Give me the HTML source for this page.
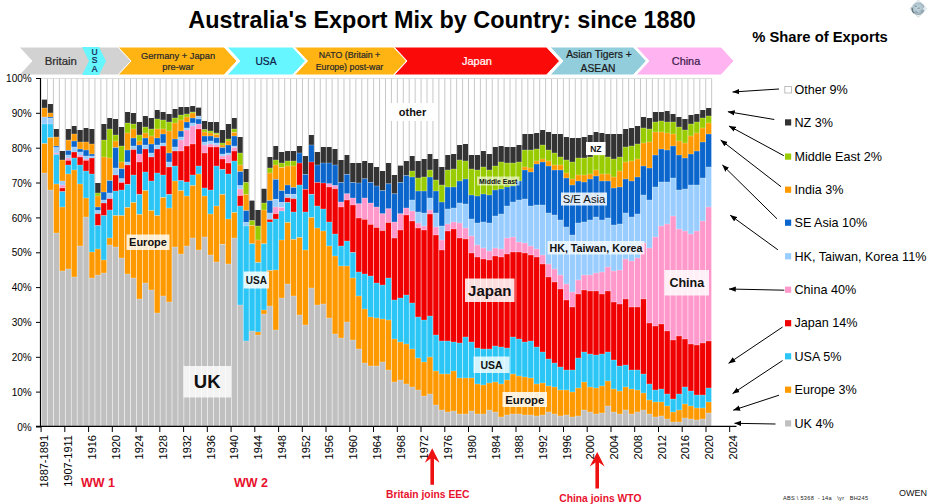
<!DOCTYPE html><html><head><meta charset="utf-8"><title>Australia Export Mix</title>
<style>html,body{margin:0;padding:0;background:#fff;}body{width:930px;height:504px;overflow:hidden;position:relative;font-family:"Liberation Sans",sans-serif;}svg{position:absolute;left:0;top:0;}text{font-family:"Liberation Sans",sans-serif;}</style></head><body>
<svg width="930" height="504" viewBox="0 0 930 504">
<rect x="0" y="0" width="930" height="504" fill="#ffffff"/>
<text x="442" y="28" text-anchor="middle" font-size="23.4" font-weight="bold" fill="#000">Australia's Export Mix by Country: since 1880</text>
<text x="820" y="41.5" text-anchor="middle" font-size="14.8" font-weight="bold" fill="#000">% Share of Exports</text>
<polygon points="19.0,47.0 118.0,47.0 131.0,61.0 118.0,75.0 19.0,75.0 32.0,61.0" fill="#d2d2d2" stroke="#ffffff" stroke-width="1"/>
<polygon points="82.0,47.0 99.0,47.0 106.0,61.0 99.0,75.0 82.0,75.0 89.0,61.0" fill="#66f6ff" stroke="none" stroke-width="1"/>
<polygon points="118.0,47.0 224.0,47.0 237.0,61.0 224.0,75.0 118.0,75.0 131.0,61.0" fill="#ffb414" stroke="#ffffff" stroke-width="1"/>
<polygon points="227.0,47.0 292.5,47.0 305.5,61.0 292.5,75.0 227.0,75.0 240.0,61.0" fill="#66f6ff" stroke="#ffffff" stroke-width="1"/>
<polygon points="294.5,47.0 393.5,47.0 406.5,61.0 393.5,75.0 294.5,75.0 307.5,61.0" fill="#ffb414" stroke="#ffffff" stroke-width="1"/>
<polygon points="394.0,47.0 546.5,47.0 559.5,61.0 546.5,75.0 394.0,75.0 407.0,61.0" fill="#fb0a0a" stroke="#ffffff" stroke-width="1"/>
<polygon points="550.0,47.0 633.3,47.0 646.3,61.0 633.3,75.0 550.0,75.0 563.0,61.0" fill="#92cddc" stroke="#ffffff" stroke-width="1"/>
<polygon points="636.0,47.0 721.0,47.0 734.0,61.0 721.0,75.0 636.0,75.0 649.0,61.0" fill="#ffb3f0" stroke="#ffffff" stroke-width="1"/>
<text x="60.8" y="65.3" text-anchor="middle" font-size="11.4" fill="#2a2a2a" stroke="#2a2a2a" stroke-width="0.22" font-weight="normal">Britain</text>
<text x="94.6" y="55.0" text-anchor="middle" font-size="8.5" fill="#10204a" stroke="#10204a" stroke-width="0.22" font-weight="normal">U</text>
<text x="94.6" y="63.3" text-anchor="middle" font-size="8.5" fill="#10204a" stroke="#10204a" stroke-width="0.22" font-weight="normal">S</text>
<text x="94.6" y="71.6" text-anchor="middle" font-size="8.5" fill="#10204a" stroke="#10204a" stroke-width="0.22" font-weight="normal">A</text>
<text x="178.0" y="59.2" text-anchor="middle" font-size="9.3" fill="#2a2a2a" stroke="#2a2a2a" stroke-width="0.22" font-weight="normal">Germany + Japan</text>
<text x="178.0" y="70.3" text-anchor="middle" font-size="9.3" fill="#2a2a2a" stroke="#2a2a2a" stroke-width="0.22" font-weight="normal">pre-war</text>
<text x="266.0" y="65.3" text-anchor="middle" font-size="10.2" fill="#10204a" stroke="#10204a" stroke-width="0.22" font-weight="normal">USA</text>
<text x="349.5" y="58.3" text-anchor="middle" font-size="8.8" fill="#2a2a2a" stroke="#2a2a2a" stroke-width="0.22" font-weight="normal">NATO (Britain +</text>
<text x="349.5" y="69.8" text-anchor="middle" font-size="8.8" fill="#2a2a2a" stroke="#2a2a2a" stroke-width="0.22" font-weight="normal">Europe) post-war</text>
<text x="477.0" y="65.3" text-anchor="middle" font-size="11" fill="#ffffff" stroke="#ffffff" stroke-width="0.22" font-weight="normal">Japan</text>
<text x="599.0" y="57.8" text-anchor="middle" font-size="10.3" fill="#1a1a1a" stroke="#1a1a1a" stroke-width="0.22" font-weight="normal">Asian Tigers +</text>
<text x="598.0" y="72.0" text-anchor="middle" font-size="10.3" fill="#1a1a1a" stroke="#1a1a1a" stroke-width="0.22" font-weight="normal">ASEAN</text>
<text x="686.0" y="65.3" text-anchor="middle" font-size="10.9" fill="#3a1a4a" stroke="#3a1a4a" stroke-width="0.22" font-weight="normal">China</text>
<rect x="41.85" y="99.60" width="5.35" height="8.40" fill="#333333"/>
<rect x="41.85" y="108.00" width="5.35" height="9.00" fill="#ff9900"/>
<rect x="41.85" y="117.00" width="5.35" height="7.00" fill="#99ccff"/>
<rect x="41.85" y="124.00" width="5.35" height="19.60" fill="#2cc6f6"/>
<rect x="41.85" y="143.60" width="5.35" height="29.40" fill="#ff9900"/>
<rect x="41.85" y="173.00" width="5.35" height="254.00" fill="#c0c0c0"/>
<rect x="47.78" y="104.00" width="5.35" height="9.00" fill="#333333"/>
<rect x="47.78" y="113.00" width="5.35" height="4.00" fill="#ff9900"/>
<rect x="47.78" y="117.00" width="5.35" height="1.40" fill="#0a66cc"/>
<rect x="47.78" y="118.40" width="5.35" height="5.60" fill="#99ccff"/>
<rect x="47.78" y="124.00" width="5.35" height="13.60" fill="#2cc6f6"/>
<rect x="47.78" y="137.60" width="5.35" height="52.40" fill="#ff9900"/>
<rect x="47.78" y="190.00" width="5.35" height="237.00" fill="#c0c0c0"/>
<rect x="53.71" y="129.00" width="5.35" height="8.00" fill="#333333"/>
<rect x="53.71" y="137.00" width="5.35" height="9.00" fill="#ff9900"/>
<rect x="53.71" y="146.00" width="5.35" height="1.60" fill="#0a66cc"/>
<rect x="53.71" y="147.60" width="5.35" height="5.40" fill="#99ccff"/>
<rect x="53.71" y="153.00" width="5.35" height="1.40" fill="#ff99cc"/>
<rect x="53.71" y="154.40" width="5.35" height="29.60" fill="#2cc6f6"/>
<rect x="53.71" y="184.00" width="5.35" height="49.00" fill="#ff9900"/>
<rect x="53.71" y="233.00" width="5.35" height="194.00" fill="#c0c0c0"/>
<rect x="59.64" y="151.00" width="5.35" height="9.00" fill="#333333"/>
<rect x="59.64" y="160.00" width="5.35" height="21.00" fill="#ff9900"/>
<rect x="59.64" y="181.00" width="5.35" height="4.00" fill="#99ccff"/>
<rect x="59.64" y="185.00" width="5.35" height="3.00" fill="#ff99cc"/>
<rect x="59.64" y="188.00" width="5.35" height="3.60" fill="#f00000"/>
<rect x="59.64" y="191.60" width="5.35" height="15.40" fill="#2cc6f6"/>
<rect x="59.64" y="207.00" width="5.35" height="64.00" fill="#ff9900"/>
<rect x="59.64" y="271.00" width="5.35" height="156.00" fill="#c0c0c0"/>
<rect x="65.57" y="129.00" width="5.35" height="11.00" fill="#333333"/>
<rect x="65.57" y="140.00" width="5.35" height="10.40" fill="#ff9900"/>
<rect x="65.57" y="150.40" width="5.35" height="4.60" fill="#0a66cc"/>
<rect x="65.57" y="155.00" width="5.35" height="3.00" fill="#99ccff"/>
<rect x="65.57" y="158.00" width="5.35" height="2.40" fill="#ff99cc"/>
<rect x="65.57" y="160.40" width="5.35" height="4.60" fill="#f00000"/>
<rect x="65.57" y="165.00" width="5.35" height="9.00" fill="#2cc6f6"/>
<rect x="65.57" y="174.00" width="5.35" height="95.00" fill="#ff9900"/>
<rect x="65.57" y="269.00" width="5.35" height="158.00" fill="#c0c0c0"/>
<rect x="71.50" y="126.00" width="5.35" height="8.00" fill="#333333"/>
<rect x="71.50" y="134.00" width="5.35" height="7.00" fill="#ff9900"/>
<rect x="71.50" y="141.00" width="5.35" height="6.00" fill="#0a66cc"/>
<rect x="71.50" y="147.00" width="5.35" height="5.00" fill="#99ccff"/>
<rect x="71.50" y="152.00" width="5.35" height="6.00" fill="#f00000"/>
<rect x="71.50" y="158.00" width="5.35" height="12.00" fill="#2cc6f6"/>
<rect x="71.50" y="170.00" width="5.35" height="107.00" fill="#ff9900"/>
<rect x="71.50" y="277.00" width="5.35" height="150.00" fill="#c0c0c0"/>
<rect x="77.43" y="130.00" width="5.35" height="12.00" fill="#333333"/>
<rect x="77.43" y="142.00" width="5.35" height="7.00" fill="#ff9900"/>
<rect x="77.43" y="149.00" width="5.35" height="3.00" fill="#0a66cc"/>
<rect x="77.43" y="152.00" width="5.35" height="3.00" fill="#99ccff"/>
<rect x="77.43" y="155.00" width="5.35" height="2.00" fill="#ff99cc"/>
<rect x="77.43" y="157.00" width="5.35" height="8.00" fill="#f00000"/>
<rect x="77.43" y="165.00" width="5.35" height="19.00" fill="#2cc6f6"/>
<rect x="77.43" y="184.00" width="5.35" height="62.00" fill="#ff9900"/>
<rect x="77.43" y="246.00" width="5.35" height="181.00" fill="#c0c0c0"/>
<rect x="83.36" y="128.00" width="5.35" height="14.00" fill="#333333"/>
<rect x="83.36" y="142.00" width="5.35" height="8.00" fill="#ff9900"/>
<rect x="83.36" y="150.00" width="5.35" height="6.00" fill="#0a66cc"/>
<rect x="83.36" y="156.00" width="5.35" height="3.00" fill="#99ccff"/>
<rect x="83.36" y="159.00" width="5.35" height="1.40" fill="#ff99cc"/>
<rect x="83.36" y="160.40" width="5.35" height="10.60" fill="#f00000"/>
<rect x="83.36" y="171.00" width="5.35" height="27.00" fill="#2cc6f6"/>
<rect x="83.36" y="198.00" width="5.35" height="19.00" fill="#ff9900"/>
<rect x="83.36" y="217.00" width="5.35" height="210.00" fill="#c0c0c0"/>
<rect x="89.29" y="129.00" width="5.35" height="15.00" fill="#333333"/>
<rect x="89.29" y="144.00" width="5.35" height="10.00" fill="#ff9900"/>
<rect x="89.29" y="154.00" width="5.35" height="2.00" fill="#0a66cc"/>
<rect x="89.29" y="156.00" width="5.35" height="2.00" fill="#99ccff"/>
<rect x="89.29" y="158.00" width="5.35" height="16.00" fill="#f00000"/>
<rect x="89.29" y="174.00" width="5.35" height="78.00" fill="#2cc6f6"/>
<rect x="89.29" y="252.00" width="5.35" height="26.00" fill="#ff9900"/>
<rect x="89.29" y="278.00" width="5.35" height="149.00" fill="#c0c0c0"/>
<rect x="95.22" y="183.00" width="5.35" height="10.00" fill="#333333"/>
<rect x="95.22" y="193.00" width="5.35" height="3.00" fill="#99cc00"/>
<rect x="95.22" y="196.00" width="5.35" height="11.00" fill="#ff9900"/>
<rect x="95.22" y="207.00" width="5.35" height="3.60" fill="#0a66cc"/>
<rect x="95.22" y="210.60" width="5.35" height="3.10" fill="#99ccff"/>
<rect x="95.22" y="213.70" width="5.35" height="11.90" fill="#f00000"/>
<rect x="95.22" y="225.60" width="5.35" height="23.40" fill="#2cc6f6"/>
<rect x="95.22" y="249.00" width="5.35" height="26.00" fill="#ff9900"/>
<rect x="95.22" y="275.00" width="5.35" height="152.00" fill="#c0c0c0"/>
<rect x="101.15" y="124.00" width="5.35" height="16.00" fill="#333333"/>
<rect x="101.15" y="140.00" width="5.35" height="17.00" fill="#99cc00"/>
<rect x="101.15" y="157.00" width="5.35" height="35.00" fill="#ff9900"/>
<rect x="101.15" y="192.00" width="5.35" height="8.00" fill="#0a66cc"/>
<rect x="101.15" y="200.00" width="5.35" height="3.00" fill="#99ccff"/>
<rect x="101.15" y="203.00" width="5.35" height="12.60" fill="#f00000"/>
<rect x="101.15" y="215.60" width="5.35" height="44.40" fill="#2cc6f6"/>
<rect x="101.15" y="260.00" width="5.35" height="13.00" fill="#ff9900"/>
<rect x="101.15" y="273.00" width="5.35" height="154.00" fill="#c0c0c0"/>
<rect x="107.08" y="118.00" width="5.35" height="11.00" fill="#333333"/>
<rect x="107.08" y="129.00" width="5.35" height="29.00" fill="#99cc00"/>
<rect x="107.08" y="158.00" width="5.35" height="22.60" fill="#ff9900"/>
<rect x="107.08" y="180.60" width="5.35" height="12.40" fill="#0a66cc"/>
<rect x="107.08" y="193.00" width="5.35" height="5.70" fill="#99ccff"/>
<rect x="107.08" y="198.70" width="5.35" height="11.30" fill="#f00000"/>
<rect x="107.08" y="210.00" width="5.35" height="28.00" fill="#2cc6f6"/>
<rect x="107.08" y="238.00" width="5.35" height="7.00" fill="#ff9900"/>
<rect x="107.08" y="245.00" width="5.35" height="182.00" fill="#c0c0c0"/>
<rect x="113.01" y="119.00" width="5.35" height="16.00" fill="#333333"/>
<rect x="113.01" y="135.00" width="5.35" height="6.00" fill="#99cc00"/>
<rect x="113.01" y="141.00" width="5.35" height="6.60" fill="#ff9900"/>
<rect x="113.01" y="147.60" width="5.35" height="20.40" fill="#0a66cc"/>
<rect x="113.01" y="168.00" width="5.35" height="7.00" fill="#99ccff"/>
<rect x="113.01" y="175.00" width="5.35" height="16.00" fill="#f00000"/>
<rect x="113.01" y="191.00" width="5.35" height="24.60" fill="#2cc6f6"/>
<rect x="113.01" y="215.60" width="5.35" height="31.40" fill="#ff9900"/>
<rect x="113.01" y="247.00" width="5.35" height="180.00" fill="#c0c0c0"/>
<rect x="118.94" y="127.00" width="5.35" height="19.00" fill="#333333"/>
<rect x="118.94" y="146.00" width="5.35" height="16.00" fill="#99cc00"/>
<rect x="118.94" y="162.00" width="5.35" height="6.70" fill="#ff9900"/>
<rect x="118.94" y="168.70" width="5.35" height="10.00" fill="#0a66cc"/>
<rect x="118.94" y="178.70" width="5.35" height="3.80" fill="#99ccff"/>
<rect x="118.94" y="182.50" width="5.35" height="7.50" fill="#f00000"/>
<rect x="118.94" y="190.00" width="5.35" height="25.60" fill="#2cc6f6"/>
<rect x="118.94" y="215.60" width="5.35" height="42.40" fill="#ff9900"/>
<rect x="118.94" y="258.00" width="5.35" height="169.00" fill="#c0c0c0"/>
<rect x="124.87" y="112.00" width="5.35" height="11.00" fill="#333333"/>
<rect x="124.87" y="123.00" width="5.35" height="10.00" fill="#99cc00"/>
<rect x="124.87" y="133.00" width="5.35" height="17.00" fill="#ff9900"/>
<rect x="124.87" y="150.00" width="5.35" height="12.00" fill="#0a66cc"/>
<rect x="124.87" y="162.00" width="5.35" height="3.00" fill="#99ccff"/>
<rect x="124.87" y="165.00" width="5.35" height="19.40" fill="#f00000"/>
<rect x="124.87" y="184.40" width="5.35" height="23.10" fill="#2cc6f6"/>
<rect x="124.87" y="207.50" width="5.35" height="66.50" fill="#ff9900"/>
<rect x="124.87" y="274.00" width="5.35" height="153.00" fill="#c0c0c0"/>
<rect x="130.80" y="113.00" width="5.35" height="11.00" fill="#333333"/>
<rect x="130.80" y="124.00" width="5.35" height="5.00" fill="#99cc00"/>
<rect x="130.80" y="129.00" width="5.35" height="9.00" fill="#ff9900"/>
<rect x="130.80" y="138.00" width="5.35" height="8.00" fill="#0a66cc"/>
<rect x="130.80" y="146.00" width="5.35" height="3.60" fill="#99ccff"/>
<rect x="130.80" y="149.60" width="5.35" height="25.40" fill="#f00000"/>
<rect x="130.80" y="175.00" width="5.35" height="27.50" fill="#2cc6f6"/>
<rect x="130.80" y="202.50" width="5.35" height="75.50" fill="#ff9900"/>
<rect x="130.80" y="278.00" width="5.35" height="149.00" fill="#c0c0c0"/>
<rect x="136.73" y="122.00" width="5.35" height="13.00" fill="#333333"/>
<rect x="136.73" y="135.00" width="5.35" height="6.00" fill="#99cc00"/>
<rect x="136.73" y="141.00" width="5.35" height="4.00" fill="#ff9900"/>
<rect x="136.73" y="145.00" width="5.35" height="9.00" fill="#0a66cc"/>
<rect x="136.73" y="154.00" width="5.35" height="8.00" fill="#ff99cc"/>
<rect x="136.73" y="162.00" width="5.35" height="32.40" fill="#f00000"/>
<rect x="136.73" y="194.40" width="5.35" height="20.00" fill="#2cc6f6"/>
<rect x="136.73" y="214.40" width="5.35" height="84.60" fill="#ff9900"/>
<rect x="136.73" y="299.00" width="5.35" height="128.00" fill="#c0c0c0"/>
<rect x="142.66" y="116.00" width="5.35" height="11.00" fill="#333333"/>
<rect x="142.66" y="127.00" width="5.35" height="6.00" fill="#99cc00"/>
<rect x="142.66" y="133.00" width="5.35" height="5.00" fill="#ff9900"/>
<rect x="142.66" y="138.00" width="5.35" height="7.00" fill="#0a66cc"/>
<rect x="142.66" y="145.00" width="5.35" height="4.00" fill="#99ccff"/>
<rect x="142.66" y="149.00" width="5.35" height="23.00" fill="#f00000"/>
<rect x="142.66" y="172.00" width="5.35" height="18.60" fill="#2cc6f6"/>
<rect x="142.66" y="190.60" width="5.35" height="92.40" fill="#ff9900"/>
<rect x="142.66" y="283.00" width="5.35" height="144.00" fill="#c0c0c0"/>
<rect x="148.59" y="118.00" width="5.35" height="11.00" fill="#333333"/>
<rect x="148.59" y="129.00" width="5.35" height="7.00" fill="#99cc00"/>
<rect x="148.59" y="136.00" width="5.35" height="8.00" fill="#ff9900"/>
<rect x="148.59" y="144.00" width="5.35" height="9.00" fill="#0a66cc"/>
<rect x="148.59" y="153.00" width="5.35" height="4.00" fill="#99ccff"/>
<rect x="148.59" y="157.00" width="5.35" height="24.00" fill="#f00000"/>
<rect x="148.59" y="181.00" width="5.35" height="29.60" fill="#2cc6f6"/>
<rect x="148.59" y="210.60" width="5.35" height="79.40" fill="#ff9900"/>
<rect x="148.59" y="290.00" width="5.35" height="137.00" fill="#c0c0c0"/>
<rect x="154.52" y="110.00" width="5.35" height="9.00" fill="#333333"/>
<rect x="154.52" y="119.00" width="5.35" height="10.00" fill="#99cc00"/>
<rect x="154.52" y="129.00" width="5.35" height="9.00" fill="#ff9900"/>
<rect x="154.52" y="138.00" width="5.35" height="7.00" fill="#0a66cc"/>
<rect x="154.52" y="145.00" width="5.35" height="4.00" fill="#99ccff"/>
<rect x="154.52" y="149.00" width="5.35" height="24.00" fill="#f00000"/>
<rect x="154.52" y="173.00" width="5.35" height="42.60" fill="#2cc6f6"/>
<rect x="154.52" y="215.60" width="5.35" height="97.40" fill="#ff9900"/>
<rect x="154.52" y="313.00" width="5.35" height="114.00" fill="#c0c0c0"/>
<rect x="160.45" y="112.00" width="5.35" height="8.00" fill="#333333"/>
<rect x="160.45" y="120.00" width="5.35" height="9.00" fill="#99cc00"/>
<rect x="160.45" y="129.00" width="5.35" height="5.00" fill="#ff9900"/>
<rect x="160.45" y="134.00" width="5.35" height="9.00" fill="#0a66cc"/>
<rect x="160.45" y="143.00" width="5.35" height="3.00" fill="#99ccff"/>
<rect x="160.45" y="146.00" width="5.35" height="29.00" fill="#f00000"/>
<rect x="160.45" y="175.00" width="5.35" height="22.50" fill="#2cc6f6"/>
<rect x="160.45" y="197.50" width="5.35" height="98.50" fill="#ff9900"/>
<rect x="160.45" y="296.00" width="5.35" height="131.00" fill="#c0c0c0"/>
<rect x="166.38" y="114.00" width="5.35" height="8.00" fill="#333333"/>
<rect x="166.38" y="122.00" width="5.35" height="9.00" fill="#99cc00"/>
<rect x="166.38" y="131.00" width="5.35" height="22.00" fill="#ff9900"/>
<rect x="166.38" y="153.00" width="5.35" height="9.00" fill="#0a66cc"/>
<rect x="166.38" y="162.00" width="5.35" height="5.00" fill="#99ccff"/>
<rect x="166.38" y="167.00" width="5.35" height="27.40" fill="#f00000"/>
<rect x="166.38" y="194.40" width="5.35" height="13.60" fill="#2cc6f6"/>
<rect x="166.38" y="208.00" width="5.35" height="94.00" fill="#ff9900"/>
<rect x="166.38" y="302.00" width="5.35" height="125.00" fill="#c0c0c0"/>
<rect x="172.31" y="109.00" width="5.35" height="9.00" fill="#333333"/>
<rect x="172.31" y="118.00" width="5.35" height="5.00" fill="#99cc00"/>
<rect x="172.31" y="123.00" width="5.35" height="16.00" fill="#ff9900"/>
<rect x="172.31" y="139.00" width="5.35" height="8.00" fill="#0a66cc"/>
<rect x="172.31" y="147.00" width="5.35" height="4.00" fill="#99ccff"/>
<rect x="172.31" y="151.00" width="5.35" height="15.00" fill="#f00000"/>
<rect x="172.31" y="166.00" width="5.35" height="15.00" fill="#2cc6f6"/>
<rect x="172.31" y="181.00" width="5.35" height="66.00" fill="#ff9900"/>
<rect x="172.31" y="247.00" width="5.35" height="180.00" fill="#c0c0c0"/>
<rect x="178.24" y="107.00" width="5.35" height="8.00" fill="#333333"/>
<rect x="178.24" y="115.00" width="5.35" height="5.00" fill="#99cc00"/>
<rect x="178.24" y="120.00" width="5.35" height="11.00" fill="#ff9900"/>
<rect x="178.24" y="131.00" width="5.35" height="6.00" fill="#0a66cc"/>
<rect x="178.24" y="137.00" width="5.35" height="3.00" fill="#99ccff"/>
<rect x="178.24" y="140.00" width="5.35" height="11.00" fill="#ff99cc"/>
<rect x="178.24" y="151.00" width="5.35" height="29.60" fill="#f00000"/>
<rect x="178.24" y="180.60" width="5.35" height="10.00" fill="#2cc6f6"/>
<rect x="178.24" y="190.60" width="5.35" height="63.40" fill="#ff9900"/>
<rect x="178.24" y="254.00" width="5.35" height="173.00" fill="#c0c0c0"/>
<rect x="184.17" y="107.00" width="5.35" height="7.00" fill="#333333"/>
<rect x="184.17" y="114.00" width="5.35" height="3.00" fill="#99cc00"/>
<rect x="184.17" y="117.00" width="5.35" height="5.00" fill="#ff9900"/>
<rect x="184.17" y="122.00" width="5.35" height="6.00" fill="#0a66cc"/>
<rect x="184.17" y="128.00" width="5.35" height="2.00" fill="#99ccff"/>
<rect x="184.17" y="130.00" width="5.35" height="16.00" fill="#ff99cc"/>
<rect x="184.17" y="146.00" width="5.35" height="36.00" fill="#f00000"/>
<rect x="184.17" y="182.00" width="5.35" height="14.00" fill="#2cc6f6"/>
<rect x="184.17" y="196.00" width="5.35" height="50.00" fill="#ff9900"/>
<rect x="184.17" y="246.00" width="5.35" height="181.00" fill="#c0c0c0"/>
<rect x="190.10" y="106.00" width="5.35" height="6.00" fill="#333333"/>
<rect x="190.10" y="112.00" width="5.35" height="1.00" fill="#99cc00"/>
<rect x="190.10" y="113.00" width="5.35" height="5.00" fill="#ff9900"/>
<rect x="190.10" y="118.00" width="5.35" height="5.00" fill="#0a66cc"/>
<rect x="190.10" y="123.00" width="5.35" height="3.00" fill="#99ccff"/>
<rect x="190.10" y="126.00" width="5.35" height="18.00" fill="#ff99cc"/>
<rect x="190.10" y="144.00" width="5.35" height="31.00" fill="#f00000"/>
<rect x="190.10" y="175.00" width="5.35" height="10.60" fill="#2cc6f6"/>
<rect x="190.10" y="185.60" width="5.35" height="52.40" fill="#ff9900"/>
<rect x="190.10" y="238.00" width="5.35" height="189.00" fill="#c0c0c0"/>
<rect x="196.03" y="107.60" width="5.35" height="8.40" fill="#333333"/>
<rect x="196.03" y="116.00" width="5.35" height="3.00" fill="#99ccff"/>
<rect x="196.03" y="119.00" width="5.35" height="5.00" fill="#0a66cc"/>
<rect x="196.03" y="124.00" width="5.35" height="5.00" fill="#ff99cc"/>
<rect x="196.03" y="129.00" width="5.35" height="37.00" fill="#f00000"/>
<rect x="196.03" y="166.00" width="5.35" height="8.00" fill="#2cc6f6"/>
<rect x="196.03" y="174.00" width="5.35" height="76.00" fill="#ff9900"/>
<rect x="196.03" y="250.00" width="5.35" height="177.00" fill="#c0c0c0"/>
<rect x="201.96" y="121.00" width="5.35" height="8.60" fill="#333333"/>
<rect x="201.96" y="129.60" width="5.35" height="2.40" fill="#99cc00"/>
<rect x="201.96" y="132.00" width="5.35" height="4.00" fill="#ff9900"/>
<rect x="201.96" y="136.00" width="5.35" height="6.00" fill="#0a66cc"/>
<rect x="201.96" y="142.00" width="5.35" height="3.00" fill="#99ccff"/>
<rect x="201.96" y="145.00" width="5.35" height="8.00" fill="#ff99cc"/>
<rect x="201.96" y="153.00" width="5.35" height="35.00" fill="#f00000"/>
<rect x="201.96" y="188.00" width="5.35" height="8.00" fill="#2cc6f6"/>
<rect x="201.96" y="196.00" width="5.35" height="41.00" fill="#ff9900"/>
<rect x="201.96" y="237.00" width="5.35" height="190.00" fill="#c0c0c0"/>
<rect x="207.89" y="122.00" width="5.35" height="9.00" fill="#333333"/>
<rect x="207.89" y="131.00" width="5.35" height="2.00" fill="#99cc00"/>
<rect x="207.89" y="133.00" width="5.35" height="3.00" fill="#ff9900"/>
<rect x="207.89" y="136.00" width="5.35" height="5.00" fill="#0a66cc"/>
<rect x="207.89" y="141.00" width="5.35" height="3.00" fill="#99ccff"/>
<rect x="207.89" y="144.00" width="5.35" height="3.00" fill="#ff99cc"/>
<rect x="207.89" y="147.00" width="5.35" height="43.00" fill="#f00000"/>
<rect x="207.89" y="190.00" width="5.35" height="24.00" fill="#2cc6f6"/>
<rect x="207.89" y="214.00" width="5.35" height="41.00" fill="#ff9900"/>
<rect x="207.89" y="255.00" width="5.35" height="172.00" fill="#c0c0c0"/>
<rect x="213.82" y="122.00" width="5.35" height="11.00" fill="#333333"/>
<rect x="213.82" y="133.00" width="5.35" height="1.40" fill="#99cc00"/>
<rect x="213.82" y="134.40" width="5.35" height="3.20" fill="#ff9900"/>
<rect x="213.82" y="137.60" width="5.35" height="5.40" fill="#0a66cc"/>
<rect x="213.82" y="143.00" width="5.35" height="2.00" fill="#99ccff"/>
<rect x="213.82" y="145.00" width="5.35" height="2.00" fill="#ff99cc"/>
<rect x="213.82" y="147.00" width="5.35" height="19.00" fill="#f00000"/>
<rect x="213.82" y="166.00" width="5.35" height="40.00" fill="#2cc6f6"/>
<rect x="213.82" y="206.00" width="5.35" height="56.00" fill="#ff9900"/>
<rect x="213.82" y="262.00" width="5.35" height="165.00" fill="#c0c0c0"/>
<rect x="219.75" y="130.00" width="5.35" height="13.00" fill="#333333"/>
<rect x="219.75" y="143.00" width="5.35" height="2.00" fill="#99cc00"/>
<rect x="219.75" y="145.00" width="5.35" height="2.60" fill="#ff9900"/>
<rect x="219.75" y="147.60" width="5.35" height="6.40" fill="#0a66cc"/>
<rect x="219.75" y="154.00" width="5.35" height="2.00" fill="#99ccff"/>
<rect x="219.75" y="156.00" width="5.35" height="3.00" fill="#ff99cc"/>
<rect x="219.75" y="159.00" width="5.35" height="10.40" fill="#f00000"/>
<rect x="219.75" y="169.40" width="5.35" height="25.00" fill="#2cc6f6"/>
<rect x="219.75" y="194.40" width="5.35" height="50.00" fill="#ff9900"/>
<rect x="219.75" y="244.40" width="5.35" height="182.60" fill="#c0c0c0"/>
<rect x="225.68" y="124.00" width="5.35" height="15.00" fill="#333333"/>
<rect x="225.68" y="139.00" width="5.35" height="2.00" fill="#99cc00"/>
<rect x="225.68" y="141.00" width="5.35" height="4.00" fill="#ff9900"/>
<rect x="225.68" y="145.00" width="5.35" height="8.00" fill="#0a66cc"/>
<rect x="225.68" y="153.00" width="5.35" height="2.00" fill="#99ccff"/>
<rect x="225.68" y="155.00" width="5.35" height="8.00" fill="#ff99cc"/>
<rect x="225.68" y="163.00" width="5.35" height="11.00" fill="#f00000"/>
<rect x="225.68" y="174.00" width="5.35" height="45.00" fill="#2cc6f6"/>
<rect x="225.68" y="219.00" width="5.35" height="45.00" fill="#ff9900"/>
<rect x="225.68" y="264.00" width="5.35" height="163.00" fill="#c0c0c0"/>
<rect x="231.61" y="118.00" width="5.35" height="11.00" fill="#333333"/>
<rect x="231.61" y="129.00" width="5.35" height="3.40" fill="#99cc00"/>
<rect x="231.61" y="132.40" width="5.35" height="3.60" fill="#ff9900"/>
<rect x="231.61" y="136.00" width="5.35" height="10.00" fill="#0a66cc"/>
<rect x="231.61" y="146.00" width="5.35" height="1.60" fill="#99ccff"/>
<rect x="231.61" y="147.60" width="5.35" height="3.40" fill="#ff99cc"/>
<rect x="231.61" y="151.00" width="5.35" height="10.00" fill="#f00000"/>
<rect x="231.61" y="161.00" width="5.35" height="51.50" fill="#2cc6f6"/>
<rect x="231.61" y="212.50" width="5.35" height="25.50" fill="#ff9900"/>
<rect x="231.61" y="238.00" width="5.35" height="189.00" fill="#c0c0c0"/>
<rect x="237.54" y="137.00" width="5.35" height="16.00" fill="#333333"/>
<rect x="237.54" y="153.00" width="5.35" height="12.00" fill="#99cc00"/>
<rect x="237.54" y="165.00" width="5.35" height="6.60" fill="#ff9900"/>
<rect x="237.54" y="171.60" width="5.35" height="14.00" fill="#0a66cc"/>
<rect x="237.54" y="185.60" width="5.35" height="3.40" fill="#99ccff"/>
<rect x="237.54" y="189.00" width="5.35" height="6.60" fill="#ff99cc"/>
<rect x="237.54" y="195.60" width="5.35" height="10.40" fill="#f00000"/>
<rect x="237.54" y="206.00" width="5.35" height="99.00" fill="#2cc6f6"/>
<rect x="237.54" y="305.00" width="5.35" height="122.00" fill="#c0c0c0"/>
<rect x="243.47" y="169.00" width="5.35" height="13.50" fill="#333333"/>
<rect x="243.47" y="182.50" width="5.35" height="11.90" fill="#99cc00"/>
<rect x="243.47" y="194.40" width="5.35" height="16.20" fill="#ff9900"/>
<rect x="243.47" y="210.60" width="5.35" height="11.90" fill="#0a66cc"/>
<rect x="243.47" y="222.50" width="5.35" height="3.50" fill="#99ccff"/>
<rect x="243.47" y="226.00" width="5.35" height="115.00" fill="#2cc6f6"/>
<rect x="243.47" y="341.00" width="5.35" height="86.00" fill="#c0c0c0"/>
<rect x="249.40" y="200.60" width="5.35" height="20.00" fill="#333333"/>
<rect x="249.40" y="220.60" width="5.35" height="5.00" fill="#99cc00"/>
<rect x="249.40" y="225.60" width="5.35" height="18.15" fill="#ff9900"/>
<rect x="249.40" y="243.75" width="5.35" height="87.25" fill="#2cc6f6"/>
<rect x="249.40" y="331.00" width="5.35" height="96.00" fill="#c0c0c0"/>
<rect x="255.33" y="210.00" width="5.35" height="16.00" fill="#333333"/>
<rect x="255.33" y="226.00" width="5.35" height="14.00" fill="#99cc00"/>
<rect x="255.33" y="240.00" width="5.35" height="22.50" fill="#ff9900"/>
<rect x="255.33" y="262.50" width="5.35" height="69.50" fill="#2cc6f6"/>
<rect x="255.33" y="332.00" width="5.35" height="3.00" fill="#ff9900"/>
<rect x="255.33" y="335.00" width="5.35" height="92.00" fill="#c0c0c0"/>
<rect x="261.26" y="188.75" width="5.35" height="14.25" fill="#333333"/>
<rect x="261.26" y="203.00" width="5.35" height="7.00" fill="#99cc00"/>
<rect x="261.26" y="210.00" width="5.35" height="33.75" fill="#ff9900"/>
<rect x="261.26" y="243.75" width="5.35" height="66.25" fill="#2cc6f6"/>
<rect x="261.26" y="310.00" width="5.35" height="4.00" fill="#ff9900"/>
<rect x="261.26" y="314.00" width="5.35" height="113.00" fill="#c0c0c0"/>
<rect x="267.19" y="157.00" width="5.35" height="11.00" fill="#333333"/>
<rect x="267.19" y="168.00" width="5.35" height="5.00" fill="#99cc00"/>
<rect x="267.19" y="173.00" width="5.35" height="27.60" fill="#ff9900"/>
<rect x="267.19" y="200.60" width="5.35" height="12.40" fill="#0a66cc"/>
<rect x="267.19" y="213.00" width="5.35" height="6.40" fill="#99ccff"/>
<rect x="267.19" y="219.40" width="5.35" height="2.60" fill="#f00000"/>
<rect x="267.19" y="222.00" width="5.35" height="48.50" fill="#2cc6f6"/>
<rect x="267.19" y="270.50" width="5.35" height="35.50" fill="#ff9900"/>
<rect x="267.19" y="306.00" width="5.35" height="121.00" fill="#c0c0c0"/>
<rect x="273.12" y="146.00" width="5.35" height="14.00" fill="#333333"/>
<rect x="273.12" y="160.00" width="5.35" height="5.00" fill="#99cc00"/>
<rect x="273.12" y="165.00" width="5.35" height="14.40" fill="#ff9900"/>
<rect x="273.12" y="179.40" width="5.35" height="20.00" fill="#0a66cc"/>
<rect x="273.12" y="199.40" width="5.35" height="7.60" fill="#99ccff"/>
<rect x="273.12" y="207.00" width="5.35" height="6.75" fill="#ff99cc"/>
<rect x="273.12" y="213.75" width="5.35" height="5.25" fill="#f00000"/>
<rect x="273.12" y="219.00" width="5.35" height="51.00" fill="#2cc6f6"/>
<rect x="273.12" y="270.00" width="5.35" height="60.00" fill="#ff9900"/>
<rect x="273.12" y="330.00" width="5.35" height="97.00" fill="#c0c0c0"/>
<rect x="279.05" y="152.00" width="5.35" height="11.00" fill="#333333"/>
<rect x="279.05" y="163.00" width="5.35" height="4.50" fill="#99cc00"/>
<rect x="279.05" y="167.50" width="5.35" height="23.10" fill="#ff9900"/>
<rect x="279.05" y="190.60" width="5.35" height="11.90" fill="#0a66cc"/>
<rect x="279.05" y="202.50" width="5.35" height="5.00" fill="#99ccff"/>
<rect x="279.05" y="207.50" width="5.35" height="3.50" fill="#ff99cc"/>
<rect x="279.05" y="211.00" width="5.35" height="29.00" fill="#2cc6f6"/>
<rect x="279.05" y="240.00" width="5.35" height="58.00" fill="#ff9900"/>
<rect x="279.05" y="298.00" width="5.35" height="129.00" fill="#c0c0c0"/>
<rect x="284.98" y="151.00" width="5.35" height="10.00" fill="#333333"/>
<rect x="284.98" y="161.00" width="5.35" height="5.00" fill="#99cc00"/>
<rect x="284.98" y="166.00" width="5.35" height="19.00" fill="#ff9900"/>
<rect x="284.98" y="185.00" width="5.35" height="9.40" fill="#0a66cc"/>
<rect x="284.98" y="194.40" width="5.35" height="3.35" fill="#99ccff"/>
<rect x="284.98" y="197.75" width="5.35" height="4.75" fill="#f00000"/>
<rect x="284.98" y="202.50" width="5.35" height="20.00" fill="#2cc6f6"/>
<rect x="284.98" y="222.50" width="5.35" height="61.50" fill="#ff9900"/>
<rect x="284.98" y="284.00" width="5.35" height="143.00" fill="#c0c0c0"/>
<rect x="290.91" y="151.00" width="5.35" height="10.00" fill="#333333"/>
<rect x="290.91" y="161.00" width="5.35" height="5.00" fill="#99cc00"/>
<rect x="290.91" y="166.00" width="5.35" height="21.50" fill="#ff9900"/>
<rect x="290.91" y="187.50" width="5.35" height="6.90" fill="#0a66cc"/>
<rect x="290.91" y="194.40" width="5.35" height="4.35" fill="#99ccff"/>
<rect x="290.91" y="198.75" width="5.35" height="13.25" fill="#f00000"/>
<rect x="290.91" y="212.00" width="5.35" height="27.40" fill="#2cc6f6"/>
<rect x="290.91" y="239.40" width="5.35" height="56.60" fill="#ff9900"/>
<rect x="290.91" y="296.00" width="5.35" height="131.00" fill="#c0c0c0"/>
<rect x="296.84" y="146.00" width="5.35" height="7.00" fill="#333333"/>
<rect x="296.84" y="153.00" width="5.35" height="10.00" fill="#0a66cc"/>
<rect x="296.84" y="163.00" width="5.35" height="22.00" fill="#f00000"/>
<rect x="296.84" y="185.00" width="5.35" height="52.50" fill="#2cc6f6"/>
<rect x="296.84" y="237.50" width="5.35" height="77.50" fill="#ff9900"/>
<rect x="296.84" y="315.00" width="5.35" height="112.00" fill="#c0c0c0"/>
<rect x="302.77" y="156.00" width="5.35" height="18.40" fill="#333333"/>
<rect x="302.77" y="174.40" width="5.35" height="15.00" fill="#0a66cc"/>
<rect x="302.77" y="189.40" width="5.35" height="22.60" fill="#f00000"/>
<rect x="302.77" y="212.00" width="5.35" height="38.00" fill="#2cc6f6"/>
<rect x="302.77" y="250.00" width="5.35" height="75.00" fill="#ff9900"/>
<rect x="302.77" y="325.00" width="5.35" height="102.00" fill="#c0c0c0"/>
<rect x="308.70" y="135.00" width="5.35" height="10.00" fill="#333333"/>
<rect x="308.70" y="145.00" width="5.35" height="17.00" fill="#0a66cc"/>
<rect x="308.70" y="162.00" width="5.35" height="32.40" fill="#f00000"/>
<rect x="308.70" y="194.40" width="5.35" height="23.10" fill="#2cc6f6"/>
<rect x="308.70" y="217.50" width="5.35" height="70.50" fill="#ff9900"/>
<rect x="308.70" y="288.00" width="5.35" height="139.00" fill="#c0c0c0"/>
<rect x="314.63" y="152.00" width="5.35" height="13.00" fill="#333333"/>
<rect x="314.63" y="165.00" width="5.35" height="17.50" fill="#0a66cc"/>
<rect x="314.63" y="182.50" width="5.35" height="23.50" fill="#f00000"/>
<rect x="314.63" y="206.00" width="5.35" height="22.00" fill="#2cc6f6"/>
<rect x="314.63" y="228.00" width="5.35" height="77.00" fill="#ff9900"/>
<rect x="314.63" y="305.00" width="5.35" height="122.00" fill="#c0c0c0"/>
<rect x="320.56" y="147.00" width="5.35" height="16.00" fill="#333333"/>
<rect x="320.56" y="163.00" width="5.35" height="20.00" fill="#0a66cc"/>
<rect x="320.56" y="183.00" width="5.35" height="26.00" fill="#f00000"/>
<rect x="320.56" y="209.00" width="5.35" height="22.00" fill="#2cc6f6"/>
<rect x="320.56" y="231.00" width="5.35" height="73.00" fill="#ff9900"/>
<rect x="320.56" y="304.00" width="5.35" height="123.00" fill="#c0c0c0"/>
<rect x="326.49" y="147.00" width="5.35" height="16.00" fill="#333333"/>
<rect x="326.49" y="163.00" width="5.35" height="20.75" fill="#0a66cc"/>
<rect x="326.49" y="183.75" width="5.35" height="3.25" fill="#ff99cc"/>
<rect x="326.49" y="187.00" width="5.35" height="35.00" fill="#f00000"/>
<rect x="326.49" y="222.00" width="5.35" height="24.00" fill="#2cc6f6"/>
<rect x="326.49" y="246.00" width="5.35" height="72.00" fill="#ff9900"/>
<rect x="326.49" y="318.00" width="5.35" height="109.00" fill="#c0c0c0"/>
<rect x="332.42" y="149.00" width="5.35" height="16.00" fill="#333333"/>
<rect x="332.42" y="165.00" width="5.35" height="20.60" fill="#0a66cc"/>
<rect x="332.42" y="185.60" width="5.35" height="3.15" fill="#ff99cc"/>
<rect x="332.42" y="188.75" width="5.35" height="45.25" fill="#f00000"/>
<rect x="332.42" y="234.00" width="5.35" height="22.00" fill="#2cc6f6"/>
<rect x="332.42" y="256.00" width="5.35" height="78.00" fill="#ff9900"/>
<rect x="332.42" y="334.00" width="5.35" height="93.00" fill="#c0c0c0"/>
<rect x="338.35" y="160.00" width="5.35" height="22.50" fill="#333333"/>
<rect x="338.35" y="182.50" width="5.35" height="19.50" fill="#0a66cc"/>
<rect x="338.35" y="202.00" width="5.35" height="5.00" fill="#ff99cc"/>
<rect x="338.35" y="207.00" width="5.35" height="39.00" fill="#f00000"/>
<rect x="338.35" y="246.00" width="5.35" height="20.00" fill="#2cc6f6"/>
<rect x="338.35" y="266.00" width="5.35" height="72.00" fill="#ff9900"/>
<rect x="338.35" y="338.00" width="5.35" height="89.00" fill="#c0c0c0"/>
<rect x="344.28" y="155.00" width="5.35" height="19.40" fill="#333333"/>
<rect x="344.28" y="174.40" width="5.35" height="19.35" fill="#0a66cc"/>
<rect x="344.28" y="193.75" width="5.35" height="6.25" fill="#ff99cc"/>
<rect x="344.28" y="200.00" width="5.35" height="41.00" fill="#f00000"/>
<rect x="344.28" y="241.00" width="5.35" height="25.00" fill="#2cc6f6"/>
<rect x="344.28" y="266.00" width="5.35" height="56.00" fill="#ff9900"/>
<rect x="344.28" y="322.00" width="5.35" height="105.00" fill="#c0c0c0"/>
<rect x="350.21" y="163.00" width="5.35" height="19.50" fill="#333333"/>
<rect x="350.21" y="182.50" width="5.35" height="15.50" fill="#0a66cc"/>
<rect x="350.21" y="198.00" width="5.35" height="7.00" fill="#ff99cc"/>
<rect x="350.21" y="205.00" width="5.35" height="47.50" fill="#f00000"/>
<rect x="350.21" y="252.50" width="5.35" height="25.50" fill="#2cc6f6"/>
<rect x="350.21" y="278.00" width="5.35" height="62.00" fill="#ff9900"/>
<rect x="350.21" y="340.00" width="5.35" height="87.00" fill="#c0c0c0"/>
<rect x="356.14" y="163.00" width="5.35" height="20.00" fill="#333333"/>
<rect x="356.14" y="183.00" width="5.35" height="20.75" fill="#0a66cc"/>
<rect x="356.14" y="203.75" width="5.35" height="14.25" fill="#ff99cc"/>
<rect x="356.14" y="218.00" width="5.35" height="54.00" fill="#f00000"/>
<rect x="356.14" y="272.00" width="5.35" height="24.00" fill="#2cc6f6"/>
<rect x="356.14" y="296.00" width="5.35" height="53.00" fill="#ff9900"/>
<rect x="356.14" y="349.00" width="5.35" height="78.00" fill="#c0c0c0"/>
<rect x="362.07" y="161.00" width="5.35" height="17.75" fill="#333333"/>
<rect x="362.07" y="178.75" width="5.35" height="19.25" fill="#0a66cc"/>
<rect x="362.07" y="198.00" width="5.35" height="21.40" fill="#ff99cc"/>
<rect x="362.07" y="219.40" width="5.35" height="54.60" fill="#f00000"/>
<rect x="362.07" y="274.00" width="5.35" height="35.00" fill="#2cc6f6"/>
<rect x="362.07" y="309.00" width="5.35" height="54.00" fill="#ff9900"/>
<rect x="362.07" y="363.00" width="5.35" height="64.00" fill="#c0c0c0"/>
<rect x="368.00" y="163.00" width="5.35" height="19.50" fill="#333333"/>
<rect x="368.00" y="182.50" width="5.35" height="20.50" fill="#0a66cc"/>
<rect x="368.00" y="203.00" width="5.35" height="21.40" fill="#ff99cc"/>
<rect x="368.00" y="224.40" width="5.35" height="51.60" fill="#f00000"/>
<rect x="368.00" y="276.00" width="5.35" height="41.00" fill="#2cc6f6"/>
<rect x="368.00" y="317.00" width="5.35" height="49.00" fill="#ff9900"/>
<rect x="368.00" y="366.00" width="5.35" height="61.00" fill="#c0c0c0"/>
<rect x="373.93" y="167.00" width="5.35" height="19.00" fill="#333333"/>
<rect x="373.93" y="186.00" width="5.35" height="21.00" fill="#0a66cc"/>
<rect x="373.93" y="207.00" width="5.35" height="20.50" fill="#ff99cc"/>
<rect x="373.93" y="227.50" width="5.35" height="55.50" fill="#f00000"/>
<rect x="373.93" y="283.00" width="5.35" height="35.00" fill="#2cc6f6"/>
<rect x="373.93" y="318.00" width="5.35" height="48.00" fill="#ff9900"/>
<rect x="373.93" y="366.00" width="5.35" height="61.00" fill="#c0c0c0"/>
<rect x="379.86" y="171.00" width="5.35" height="19.60" fill="#333333"/>
<rect x="379.86" y="190.60" width="5.35" height="23.15" fill="#0a66cc"/>
<rect x="379.86" y="213.75" width="5.35" height="16.85" fill="#ff99cc"/>
<rect x="379.86" y="230.60" width="5.35" height="54.40" fill="#f00000"/>
<rect x="379.86" y="285.00" width="5.35" height="34.00" fill="#2cc6f6"/>
<rect x="379.86" y="319.00" width="5.35" height="43.00" fill="#ff9900"/>
<rect x="379.86" y="362.00" width="5.35" height="65.00" fill="#c0c0c0"/>
<rect x="385.79" y="163.00" width="5.35" height="20.75" fill="#333333"/>
<rect x="385.79" y="183.75" width="5.35" height="25.00" fill="#0a66cc"/>
<rect x="385.79" y="208.75" width="5.35" height="13.75" fill="#ff99cc"/>
<rect x="385.79" y="222.50" width="5.35" height="55.50" fill="#f00000"/>
<rect x="385.79" y="278.00" width="5.35" height="42.00" fill="#2cc6f6"/>
<rect x="385.79" y="320.00" width="5.35" height="50.00" fill="#ff9900"/>
<rect x="385.79" y="370.00" width="5.35" height="57.00" fill="#c0c0c0"/>
<rect x="391.72" y="175.00" width="5.35" height="18.75" fill="#333333"/>
<rect x="391.72" y="193.75" width="5.35" height="28.25" fill="#0a66cc"/>
<rect x="391.72" y="222.00" width="5.35" height="16.00" fill="#ff99cc"/>
<rect x="391.72" y="238.00" width="5.35" height="62.00" fill="#f00000"/>
<rect x="391.72" y="300.00" width="5.35" height="39.00" fill="#2cc6f6"/>
<rect x="391.72" y="339.00" width="5.35" height="43.00" fill="#ff9900"/>
<rect x="391.72" y="382.00" width="5.35" height="45.00" fill="#c0c0c0"/>
<rect x="397.65" y="165.60" width="5.35" height="16.90" fill="#333333"/>
<rect x="397.65" y="182.50" width="5.35" height="31.25" fill="#0a66cc"/>
<rect x="397.65" y="213.75" width="5.35" height="16.25" fill="#ff99cc"/>
<rect x="397.65" y="230.00" width="5.35" height="68.00" fill="#f00000"/>
<rect x="397.65" y="298.00" width="5.35" height="44.00" fill="#2cc6f6"/>
<rect x="397.65" y="342.00" width="5.35" height="38.00" fill="#ff9900"/>
<rect x="397.65" y="380.00" width="5.35" height="47.00" fill="#c0c0c0"/>
<rect x="403.58" y="161.00" width="5.35" height="14.60" fill="#333333"/>
<rect x="403.58" y="175.60" width="5.35" height="32.40" fill="#0a66cc"/>
<rect x="403.58" y="208.00" width="5.35" height="7.00" fill="#ff99cc"/>
<rect x="403.58" y="215.00" width="5.35" height="80.00" fill="#f00000"/>
<rect x="403.58" y="295.00" width="5.35" height="49.00" fill="#2cc6f6"/>
<rect x="403.58" y="344.00" width="5.35" height="40.00" fill="#ff9900"/>
<rect x="403.58" y="384.00" width="5.35" height="43.00" fill="#c0c0c0"/>
<rect x="409.51" y="156.00" width="5.35" height="15.00" fill="#333333"/>
<rect x="409.51" y="171.00" width="5.35" height="6.00" fill="#99cc00"/>
<rect x="409.51" y="177.00" width="5.35" height="23.00" fill="#0a66cc"/>
<rect x="409.51" y="200.00" width="5.35" height="11.00" fill="#99ccff"/>
<rect x="409.51" y="211.00" width="5.35" height="10.00" fill="#ff99cc"/>
<rect x="409.51" y="221.00" width="5.35" height="82.00" fill="#f00000"/>
<rect x="409.51" y="303.00" width="5.35" height="46.00" fill="#2cc6f6"/>
<rect x="409.51" y="349.00" width="5.35" height="38.00" fill="#ff9900"/>
<rect x="409.51" y="387.00" width="5.35" height="40.00" fill="#c0c0c0"/>
<rect x="415.44" y="161.00" width="5.35" height="17.00" fill="#333333"/>
<rect x="415.44" y="178.00" width="5.35" height="13.00" fill="#99cc00"/>
<rect x="415.44" y="191.00" width="5.35" height="21.00" fill="#0a66cc"/>
<rect x="415.44" y="212.00" width="5.35" height="11.00" fill="#99ccff"/>
<rect x="415.44" y="223.00" width="5.35" height="5.00" fill="#ff99cc"/>
<rect x="415.44" y="228.00" width="5.35" height="89.00" fill="#f00000"/>
<rect x="415.44" y="317.00" width="5.35" height="41.00" fill="#2cc6f6"/>
<rect x="415.44" y="358.00" width="5.35" height="32.00" fill="#ff9900"/>
<rect x="415.44" y="390.00" width="5.35" height="37.00" fill="#c0c0c0"/>
<rect x="421.37" y="159.00" width="5.35" height="18.00" fill="#333333"/>
<rect x="421.37" y="177.00" width="5.35" height="14.00" fill="#99cc00"/>
<rect x="421.37" y="191.00" width="5.35" height="22.00" fill="#0a66cc"/>
<rect x="421.37" y="213.00" width="5.35" height="13.00" fill="#99ccff"/>
<rect x="421.37" y="226.00" width="5.35" height="4.00" fill="#ff99cc"/>
<rect x="421.37" y="230.00" width="5.35" height="90.00" fill="#f00000"/>
<rect x="421.37" y="320.00" width="5.35" height="42.00" fill="#2cc6f6"/>
<rect x="421.37" y="362.00" width="5.35" height="34.00" fill="#ff9900"/>
<rect x="421.37" y="396.00" width="5.35" height="31.00" fill="#c0c0c0"/>
<rect x="427.30" y="154.00" width="5.35" height="16.00" fill="#333333"/>
<rect x="427.30" y="170.00" width="5.35" height="7.00" fill="#99cc00"/>
<rect x="427.30" y="177.00" width="5.35" height="21.00" fill="#0a66cc"/>
<rect x="427.30" y="198.00" width="5.35" height="12.00" fill="#99ccff"/>
<rect x="427.30" y="210.00" width="5.35" height="4.00" fill="#ff99cc"/>
<rect x="427.30" y="214.00" width="5.35" height="102.00" fill="#f00000"/>
<rect x="427.30" y="316.00" width="5.35" height="41.00" fill="#2cc6f6"/>
<rect x="427.30" y="357.00" width="5.35" height="37.00" fill="#ff9900"/>
<rect x="427.30" y="394.00" width="5.35" height="33.00" fill="#c0c0c0"/>
<rect x="433.23" y="159.00" width="5.35" height="21.00" fill="#333333"/>
<rect x="433.23" y="180.00" width="5.35" height="11.00" fill="#99cc00"/>
<rect x="433.23" y="191.00" width="5.35" height="22.00" fill="#0a66cc"/>
<rect x="433.23" y="213.00" width="5.35" height="14.00" fill="#99ccff"/>
<rect x="433.23" y="227.00" width="5.35" height="8.00" fill="#ff99cc"/>
<rect x="433.23" y="235.00" width="5.35" height="100.00" fill="#f00000"/>
<rect x="433.23" y="335.00" width="5.35" height="36.00" fill="#2cc6f6"/>
<rect x="433.23" y="371.00" width="5.35" height="34.00" fill="#ff9900"/>
<rect x="433.23" y="405.00" width="5.35" height="22.00" fill="#c0c0c0"/>
<rect x="439.16" y="167.00" width="5.35" height="18.00" fill="#333333"/>
<rect x="439.16" y="185.00" width="5.35" height="17.00" fill="#99cc00"/>
<rect x="439.16" y="202.00" width="5.35" height="24.00" fill="#0a66cc"/>
<rect x="439.16" y="226.00" width="5.35" height="14.00" fill="#99ccff"/>
<rect x="439.16" y="240.00" width="5.35" height="10.00" fill="#ff99cc"/>
<rect x="439.16" y="250.00" width="5.35" height="91.00" fill="#f00000"/>
<rect x="439.16" y="341.00" width="5.35" height="33.00" fill="#2cc6f6"/>
<rect x="439.16" y="374.00" width="5.35" height="36.00" fill="#ff9900"/>
<rect x="439.16" y="410.00" width="5.35" height="17.00" fill="#c0c0c0"/>
<rect x="445.09" y="155.00" width="5.35" height="15.00" fill="#333333"/>
<rect x="445.09" y="170.00" width="5.35" height="17.00" fill="#99cc00"/>
<rect x="445.09" y="187.00" width="5.35" height="22.00" fill="#0a66cc"/>
<rect x="445.09" y="209.00" width="5.35" height="15.00" fill="#99ccff"/>
<rect x="445.09" y="224.00" width="5.35" height="7.00" fill="#ff99cc"/>
<rect x="445.09" y="231.00" width="5.35" height="110.00" fill="#f00000"/>
<rect x="445.09" y="341.00" width="5.35" height="33.00" fill="#2cc6f6"/>
<rect x="445.09" y="374.00" width="5.35" height="38.00" fill="#ff9900"/>
<rect x="445.09" y="412.00" width="5.35" height="15.00" fill="#c0c0c0"/>
<rect x="451.02" y="154.00" width="5.35" height="15.00" fill="#333333"/>
<rect x="451.02" y="169.00" width="5.35" height="18.00" fill="#99cc00"/>
<rect x="451.02" y="187.00" width="5.35" height="21.00" fill="#0a66cc"/>
<rect x="451.02" y="208.00" width="5.35" height="14.00" fill="#99ccff"/>
<rect x="451.02" y="222.00" width="5.35" height="7.00" fill="#ff99cc"/>
<rect x="451.02" y="229.00" width="5.35" height="113.00" fill="#f00000"/>
<rect x="451.02" y="342.00" width="5.35" height="29.00" fill="#2cc6f6"/>
<rect x="451.02" y="371.00" width="5.35" height="40.00" fill="#ff9900"/>
<rect x="451.02" y="411.00" width="5.35" height="16.00" fill="#c0c0c0"/>
<rect x="456.95" y="145.00" width="5.35" height="15.00" fill="#333333"/>
<rect x="456.95" y="160.00" width="5.35" height="21.00" fill="#99cc00"/>
<rect x="456.95" y="181.00" width="5.35" height="22.00" fill="#0a66cc"/>
<rect x="456.95" y="203.00" width="5.35" height="20.00" fill="#99ccff"/>
<rect x="456.95" y="223.00" width="5.35" height="15.00" fill="#ff99cc"/>
<rect x="456.95" y="238.00" width="5.35" height="105.00" fill="#f00000"/>
<rect x="456.95" y="343.00" width="5.35" height="35.00" fill="#2cc6f6"/>
<rect x="456.95" y="378.00" width="5.35" height="36.00" fill="#ff9900"/>
<rect x="456.95" y="414.00" width="5.35" height="13.00" fill="#c0c0c0"/>
<rect x="462.88" y="144.00" width="5.35" height="17.00" fill="#333333"/>
<rect x="462.88" y="161.00" width="5.35" height="18.00" fill="#99cc00"/>
<rect x="462.88" y="179.00" width="5.35" height="25.00" fill="#0a66cc"/>
<rect x="462.88" y="204.00" width="5.35" height="24.00" fill="#99ccff"/>
<rect x="462.88" y="228.00" width="5.35" height="11.00" fill="#ff99cc"/>
<rect x="462.88" y="239.00" width="5.35" height="98.00" fill="#f00000"/>
<rect x="462.88" y="337.00" width="5.35" height="41.00" fill="#2cc6f6"/>
<rect x="462.88" y="378.00" width="5.35" height="36.00" fill="#ff9900"/>
<rect x="462.88" y="414.00" width="5.35" height="13.00" fill="#c0c0c0"/>
<rect x="468.81" y="155.00" width="5.35" height="14.00" fill="#333333"/>
<rect x="468.81" y="169.00" width="5.35" height="26.00" fill="#99cc00"/>
<rect x="468.81" y="195.00" width="5.35" height="24.00" fill="#0a66cc"/>
<rect x="468.81" y="219.00" width="5.35" height="17.00" fill="#99ccff"/>
<rect x="468.81" y="236.00" width="5.35" height="17.00" fill="#ff99cc"/>
<rect x="468.81" y="253.00" width="5.35" height="89.00" fill="#f00000"/>
<rect x="468.81" y="342.00" width="5.35" height="36.00" fill="#2cc6f6"/>
<rect x="468.81" y="378.00" width="5.35" height="33.00" fill="#ff9900"/>
<rect x="468.81" y="411.00" width="5.35" height="16.00" fill="#c0c0c0"/>
<rect x="474.74" y="155.00" width="5.35" height="15.00" fill="#333333"/>
<rect x="474.74" y="170.00" width="5.35" height="26.00" fill="#99cc00"/>
<rect x="474.74" y="196.00" width="5.35" height="27.00" fill="#0a66cc"/>
<rect x="474.74" y="223.00" width="5.35" height="22.00" fill="#99ccff"/>
<rect x="474.74" y="245.00" width="5.35" height="12.00" fill="#ff99cc"/>
<rect x="474.74" y="257.00" width="5.35" height="91.00" fill="#f00000"/>
<rect x="474.74" y="348.00" width="5.35" height="36.00" fill="#2cc6f6"/>
<rect x="474.74" y="384.00" width="5.35" height="30.00" fill="#ff9900"/>
<rect x="474.74" y="414.00" width="5.35" height="13.00" fill="#c0c0c0"/>
<rect x="480.67" y="151.00" width="5.35" height="16.00" fill="#333333"/>
<rect x="480.67" y="167.00" width="5.35" height="27.00" fill="#99cc00"/>
<rect x="480.67" y="194.00" width="5.35" height="28.00" fill="#0a66cc"/>
<rect x="480.67" y="222.00" width="5.35" height="26.00" fill="#99ccff"/>
<rect x="480.67" y="248.00" width="5.35" height="11.00" fill="#ff99cc"/>
<rect x="480.67" y="259.00" width="5.35" height="90.00" fill="#f00000"/>
<rect x="480.67" y="349.00" width="5.35" height="36.00" fill="#2cc6f6"/>
<rect x="480.67" y="385.00" width="5.35" height="29.00" fill="#ff9900"/>
<rect x="480.67" y="414.00" width="5.35" height="13.00" fill="#c0c0c0"/>
<rect x="486.60" y="154.00" width="5.35" height="16.00" fill="#333333"/>
<rect x="486.60" y="170.00" width="5.35" height="25.00" fill="#99cc00"/>
<rect x="486.60" y="195.00" width="5.35" height="28.00" fill="#0a66cc"/>
<rect x="486.60" y="223.00" width="5.35" height="28.00" fill="#99ccff"/>
<rect x="486.60" y="251.00" width="5.35" height="9.00" fill="#ff99cc"/>
<rect x="486.60" y="260.00" width="5.35" height="89.00" fill="#f00000"/>
<rect x="486.60" y="349.00" width="5.35" height="34.00" fill="#2cc6f6"/>
<rect x="486.60" y="383.00" width="5.35" height="27.00" fill="#ff9900"/>
<rect x="486.60" y="410.00" width="5.35" height="17.00" fill="#c0c0c0"/>
<rect x="492.53" y="147.00" width="5.35" height="19.00" fill="#333333"/>
<rect x="492.53" y="166.00" width="5.35" height="24.00" fill="#99cc00"/>
<rect x="492.53" y="190.00" width="5.35" height="26.00" fill="#0a66cc"/>
<rect x="492.53" y="216.00" width="5.35" height="32.00" fill="#99ccff"/>
<rect x="492.53" y="248.00" width="5.35" height="8.00" fill="#ff99cc"/>
<rect x="492.53" y="256.00" width="5.35" height="90.00" fill="#f00000"/>
<rect x="492.53" y="346.00" width="5.35" height="36.00" fill="#2cc6f6"/>
<rect x="492.53" y="382.00" width="5.35" height="30.00" fill="#ff9900"/>
<rect x="492.53" y="412.00" width="5.35" height="15.00" fill="#c0c0c0"/>
<rect x="498.46" y="146.00" width="5.35" height="16.00" fill="#333333"/>
<rect x="498.46" y="162.00" width="5.35" height="27.00" fill="#99cc00"/>
<rect x="498.46" y="189.00" width="5.35" height="25.00" fill="#0a66cc"/>
<rect x="498.46" y="214.00" width="5.35" height="35.00" fill="#99ccff"/>
<rect x="498.46" y="249.00" width="5.35" height="8.00" fill="#ff99cc"/>
<rect x="498.46" y="257.00" width="5.35" height="90.00" fill="#f00000"/>
<rect x="498.46" y="347.00" width="5.35" height="37.00" fill="#2cc6f6"/>
<rect x="498.46" y="384.00" width="5.35" height="33.00" fill="#ff9900"/>
<rect x="498.46" y="417.00" width="5.35" height="10.00" fill="#c0c0c0"/>
<rect x="504.39" y="147.00" width="5.35" height="16.00" fill="#333333"/>
<rect x="504.39" y="163.00" width="5.35" height="24.00" fill="#99cc00"/>
<rect x="504.39" y="187.00" width="5.35" height="19.00" fill="#0a66cc"/>
<rect x="504.39" y="206.00" width="5.35" height="32.00" fill="#99ccff"/>
<rect x="504.39" y="238.00" width="5.35" height="16.00" fill="#ff99cc"/>
<rect x="504.39" y="254.00" width="5.35" height="94.00" fill="#f00000"/>
<rect x="504.39" y="348.00" width="5.35" height="32.00" fill="#2cc6f6"/>
<rect x="504.39" y="380.00" width="5.35" height="35.00" fill="#ff9900"/>
<rect x="504.39" y="415.00" width="5.35" height="12.00" fill="#c0c0c0"/>
<rect x="510.32" y="147.00" width="5.35" height="16.00" fill="#333333"/>
<rect x="510.32" y="163.00" width="5.35" height="23.00" fill="#99cc00"/>
<rect x="510.32" y="186.00" width="5.35" height="16.00" fill="#0a66cc"/>
<rect x="510.32" y="202.00" width="5.35" height="35.00" fill="#99ccff"/>
<rect x="510.32" y="237.00" width="5.35" height="15.00" fill="#ff99cc"/>
<rect x="510.32" y="252.00" width="5.35" height="85.00" fill="#f00000"/>
<rect x="510.32" y="337.00" width="5.35" height="37.00" fill="#2cc6f6"/>
<rect x="510.32" y="374.00" width="5.35" height="40.00" fill="#ff9900"/>
<rect x="510.32" y="414.00" width="5.35" height="13.00" fill="#c0c0c0"/>
<rect x="516.25" y="145.00" width="5.35" height="17.00" fill="#333333"/>
<rect x="516.25" y="162.00" width="5.35" height="19.00" fill="#99cc00"/>
<rect x="516.25" y="181.00" width="5.35" height="19.00" fill="#0a66cc"/>
<rect x="516.25" y="200.00" width="5.35" height="42.00" fill="#99ccff"/>
<rect x="516.25" y="242.00" width="5.35" height="10.00" fill="#ff99cc"/>
<rect x="516.25" y="252.00" width="5.35" height="87.00" fill="#f00000"/>
<rect x="516.25" y="339.00" width="5.35" height="37.00" fill="#2cc6f6"/>
<rect x="516.25" y="376.00" width="5.35" height="38.00" fill="#ff9900"/>
<rect x="516.25" y="414.00" width="5.35" height="13.00" fill="#c0c0c0"/>
<rect x="522.18" y="134.00" width="5.35" height="16.00" fill="#333333"/>
<rect x="522.18" y="150.00" width="5.35" height="17.00" fill="#99cc00"/>
<rect x="522.18" y="167.00" width="5.35" height="3.00" fill="#ff9900"/>
<rect x="522.18" y="170.00" width="5.35" height="29.00" fill="#0a66cc"/>
<rect x="522.18" y="199.00" width="5.35" height="44.00" fill="#99ccff"/>
<rect x="522.18" y="243.00" width="5.35" height="10.00" fill="#ff99cc"/>
<rect x="522.18" y="253.00" width="5.35" height="89.00" fill="#f00000"/>
<rect x="522.18" y="342.00" width="5.35" height="35.00" fill="#2cc6f6"/>
<rect x="522.18" y="377.00" width="5.35" height="38.00" fill="#ff9900"/>
<rect x="522.18" y="415.00" width="5.35" height="12.00" fill="#c0c0c0"/>
<rect x="528.11" y="134.00" width="5.35" height="16.00" fill="#333333"/>
<rect x="528.11" y="150.00" width="5.35" height="18.00" fill="#99cc00"/>
<rect x="528.11" y="168.00" width="5.35" height="4.00" fill="#ff9900"/>
<rect x="528.11" y="172.00" width="5.35" height="34.00" fill="#0a66cc"/>
<rect x="528.11" y="206.00" width="5.35" height="40.00" fill="#99ccff"/>
<rect x="528.11" y="246.00" width="5.35" height="9.00" fill="#ff99cc"/>
<rect x="528.11" y="255.00" width="5.35" height="86.00" fill="#f00000"/>
<rect x="528.11" y="341.00" width="5.35" height="37.00" fill="#2cc6f6"/>
<rect x="528.11" y="378.00" width="5.35" height="37.00" fill="#ff9900"/>
<rect x="528.11" y="415.00" width="5.35" height="12.00" fill="#c0c0c0"/>
<rect x="534.04" y="133.00" width="5.35" height="16.00" fill="#333333"/>
<rect x="534.04" y="149.00" width="5.35" height="12.00" fill="#99cc00"/>
<rect x="534.04" y="161.00" width="5.35" height="3.00" fill="#ff9900"/>
<rect x="534.04" y="164.00" width="5.35" height="41.00" fill="#0a66cc"/>
<rect x="534.04" y="205.00" width="5.35" height="44.00" fill="#99ccff"/>
<rect x="534.04" y="249.00" width="5.35" height="8.00" fill="#ff99cc"/>
<rect x="534.04" y="257.00" width="5.35" height="90.00" fill="#f00000"/>
<rect x="534.04" y="347.00" width="5.35" height="37.00" fill="#2cc6f6"/>
<rect x="534.04" y="384.00" width="5.35" height="32.00" fill="#ff9900"/>
<rect x="534.04" y="416.00" width="5.35" height="11.00" fill="#c0c0c0"/>
<rect x="539.97" y="130.00" width="5.35" height="15.00" fill="#333333"/>
<rect x="539.97" y="145.00" width="5.35" height="14.00" fill="#99cc00"/>
<rect x="539.97" y="159.00" width="5.35" height="3.00" fill="#ff9900"/>
<rect x="539.97" y="162.00" width="5.35" height="43.00" fill="#0a66cc"/>
<rect x="539.97" y="205.00" width="5.35" height="50.00" fill="#99ccff"/>
<rect x="539.97" y="255.00" width="5.35" height="9.00" fill="#ff99cc"/>
<rect x="539.97" y="264.00" width="5.35" height="88.00" fill="#f00000"/>
<rect x="539.97" y="352.00" width="5.35" height="31.00" fill="#2cc6f6"/>
<rect x="539.97" y="383.00" width="5.35" height="32.00" fill="#ff9900"/>
<rect x="539.97" y="415.00" width="5.35" height="12.00" fill="#c0c0c0"/>
<rect x="545.90" y="132.00" width="5.35" height="18.00" fill="#333333"/>
<rect x="545.90" y="150.00" width="5.35" height="11.00" fill="#99cc00"/>
<rect x="545.90" y="161.00" width="5.35" height="5.00" fill="#ff9900"/>
<rect x="545.90" y="166.00" width="5.35" height="47.00" fill="#0a66cc"/>
<rect x="545.90" y="213.00" width="5.35" height="51.00" fill="#99ccff"/>
<rect x="545.90" y="264.00" width="5.35" height="13.00" fill="#ff99cc"/>
<rect x="545.90" y="277.00" width="5.35" height="82.00" fill="#f00000"/>
<rect x="545.90" y="359.00" width="5.35" height="27.00" fill="#2cc6f6"/>
<rect x="545.90" y="386.00" width="5.35" height="26.00" fill="#ff9900"/>
<rect x="545.90" y="412.00" width="5.35" height="15.00" fill="#c0c0c0"/>
<rect x="551.83" y="134.00" width="5.35" height="19.00" fill="#333333"/>
<rect x="551.83" y="153.00" width="5.35" height="12.00" fill="#99cc00"/>
<rect x="551.83" y="165.00" width="5.35" height="5.00" fill="#ff9900"/>
<rect x="551.83" y="170.00" width="5.35" height="45.00" fill="#0a66cc"/>
<rect x="551.83" y="215.00" width="5.35" height="54.00" fill="#99ccff"/>
<rect x="551.83" y="269.00" width="5.35" height="13.00" fill="#ff99cc"/>
<rect x="551.83" y="282.00" width="5.35" height="81.00" fill="#f00000"/>
<rect x="551.83" y="363.00" width="5.35" height="24.00" fill="#2cc6f6"/>
<rect x="551.83" y="387.00" width="5.35" height="27.00" fill="#ff9900"/>
<rect x="551.83" y="414.00" width="5.35" height="13.00" fill="#c0c0c0"/>
<rect x="557.76" y="134.00" width="5.35" height="23.00" fill="#333333"/>
<rect x="557.76" y="157.00" width="5.35" height="8.00" fill="#99cc00"/>
<rect x="557.76" y="165.00" width="5.35" height="5.00" fill="#ff9900"/>
<rect x="557.76" y="170.00" width="5.35" height="50.00" fill="#0a66cc"/>
<rect x="557.76" y="220.00" width="5.35" height="55.00" fill="#99ccff"/>
<rect x="557.76" y="275.00" width="5.35" height="14.00" fill="#ff99cc"/>
<rect x="557.76" y="289.00" width="5.35" height="78.00" fill="#f00000"/>
<rect x="557.76" y="367.00" width="5.35" height="23.00" fill="#2cc6f6"/>
<rect x="557.76" y="390.00" width="5.35" height="26.00" fill="#ff9900"/>
<rect x="557.76" y="416.00" width="5.35" height="11.00" fill="#c0c0c0"/>
<rect x="563.69" y="137.00" width="5.35" height="23.00" fill="#333333"/>
<rect x="563.69" y="160.00" width="5.35" height="13.00" fill="#99cc00"/>
<rect x="563.69" y="173.00" width="5.35" height="5.00" fill="#ff9900"/>
<rect x="563.69" y="178.00" width="5.35" height="49.00" fill="#0a66cc"/>
<rect x="563.69" y="227.00" width="5.35" height="57.00" fill="#99ccff"/>
<rect x="563.69" y="284.00" width="5.35" height="16.00" fill="#ff99cc"/>
<rect x="563.69" y="300.00" width="5.35" height="70.00" fill="#f00000"/>
<rect x="563.69" y="370.00" width="5.35" height="20.00" fill="#2cc6f6"/>
<rect x="563.69" y="390.00" width="5.35" height="25.00" fill="#ff9900"/>
<rect x="563.69" y="415.00" width="5.35" height="12.00" fill="#c0c0c0"/>
<rect x="569.62" y="138.00" width="5.35" height="24.00" fill="#333333"/>
<rect x="569.62" y="162.00" width="5.35" height="17.00" fill="#99cc00"/>
<rect x="569.62" y="179.00" width="5.35" height="6.00" fill="#ff9900"/>
<rect x="569.62" y="185.00" width="5.35" height="50.00" fill="#0a66cc"/>
<rect x="569.62" y="235.00" width="5.35" height="57.00" fill="#99ccff"/>
<rect x="569.62" y="292.00" width="5.35" height="15.00" fill="#ff99cc"/>
<rect x="569.62" y="307.00" width="5.35" height="63.00" fill="#f00000"/>
<rect x="569.62" y="370.00" width="5.35" height="22.00" fill="#2cc6f6"/>
<rect x="569.62" y="392.00" width="5.35" height="25.00" fill="#ff9900"/>
<rect x="569.62" y="417.00" width="5.35" height="10.00" fill="#c0c0c0"/>
<rect x="575.55" y="138.00" width="5.35" height="20.00" fill="#333333"/>
<rect x="575.55" y="158.00" width="5.35" height="17.00" fill="#99cc00"/>
<rect x="575.55" y="175.00" width="5.35" height="6.00" fill="#ff9900"/>
<rect x="575.55" y="181.00" width="5.35" height="42.00" fill="#0a66cc"/>
<rect x="575.55" y="223.00" width="5.35" height="57.00" fill="#99ccff"/>
<rect x="575.55" y="280.00" width="5.35" height="14.00" fill="#ff99cc"/>
<rect x="575.55" y="294.00" width="5.35" height="64.00" fill="#f00000"/>
<rect x="575.55" y="358.00" width="5.35" height="30.00" fill="#2cc6f6"/>
<rect x="575.55" y="388.00" width="5.35" height="28.00" fill="#ff9900"/>
<rect x="575.55" y="416.00" width="5.35" height="11.00" fill="#c0c0c0"/>
<rect x="581.48" y="137.00" width="5.35" height="21.00" fill="#333333"/>
<rect x="581.48" y="158.00" width="5.35" height="17.00" fill="#99cc00"/>
<rect x="581.48" y="175.00" width="5.35" height="7.00" fill="#ff9900"/>
<rect x="581.48" y="182.00" width="5.35" height="40.00" fill="#0a66cc"/>
<rect x="581.48" y="222.00" width="5.35" height="53.00" fill="#99ccff"/>
<rect x="581.48" y="275.00" width="5.35" height="15.00" fill="#ff99cc"/>
<rect x="581.48" y="290.00" width="5.35" height="62.00" fill="#f00000"/>
<rect x="581.48" y="352.00" width="5.35" height="30.00" fill="#2cc6f6"/>
<rect x="581.48" y="382.00" width="5.35" height="28.00" fill="#ff9900"/>
<rect x="581.48" y="410.00" width="5.35" height="17.00" fill="#c0c0c0"/>
<rect x="587.41" y="135.00" width="5.35" height="22.00" fill="#333333"/>
<rect x="587.41" y="157.00" width="5.35" height="17.00" fill="#99cc00"/>
<rect x="587.41" y="174.00" width="5.35" height="5.00" fill="#ff9900"/>
<rect x="587.41" y="179.00" width="5.35" height="41.00" fill="#0a66cc"/>
<rect x="587.41" y="220.00" width="5.35" height="55.00" fill="#99ccff"/>
<rect x="587.41" y="275.00" width="5.35" height="16.00" fill="#ff99cc"/>
<rect x="587.41" y="291.00" width="5.35" height="63.00" fill="#f00000"/>
<rect x="587.41" y="354.00" width="5.35" height="33.00" fill="#2cc6f6"/>
<rect x="587.41" y="387.00" width="5.35" height="25.00" fill="#ff9900"/>
<rect x="587.41" y="412.00" width="5.35" height="15.00" fill="#c0c0c0"/>
<rect x="593.34" y="132.00" width="5.35" height="23.00" fill="#333333"/>
<rect x="593.34" y="155.00" width="5.35" height="15.00" fill="#99cc00"/>
<rect x="593.34" y="170.00" width="5.35" height="6.00" fill="#ff9900"/>
<rect x="593.34" y="176.00" width="5.35" height="41.00" fill="#0a66cc"/>
<rect x="593.34" y="217.00" width="5.35" height="56.00" fill="#99ccff"/>
<rect x="593.34" y="273.00" width="5.35" height="18.00" fill="#ff99cc"/>
<rect x="593.34" y="291.00" width="5.35" height="64.00" fill="#f00000"/>
<rect x="593.34" y="355.00" width="5.35" height="33.00" fill="#2cc6f6"/>
<rect x="593.34" y="388.00" width="5.35" height="26.00" fill="#ff9900"/>
<rect x="593.34" y="414.00" width="5.35" height="13.00" fill="#c0c0c0"/>
<rect x="599.27" y="133.00" width="5.35" height="22.00" fill="#333333"/>
<rect x="599.27" y="155.00" width="5.35" height="19.00" fill="#99cc00"/>
<rect x="599.27" y="174.00" width="5.35" height="7.00" fill="#ff9900"/>
<rect x="599.27" y="181.00" width="5.35" height="39.00" fill="#0a66cc"/>
<rect x="599.27" y="220.00" width="5.35" height="52.00" fill="#99ccff"/>
<rect x="599.27" y="272.00" width="5.35" height="22.00" fill="#ff99cc"/>
<rect x="599.27" y="294.00" width="5.35" height="60.00" fill="#f00000"/>
<rect x="599.27" y="354.00" width="5.35" height="32.00" fill="#2cc6f6"/>
<rect x="599.27" y="386.00" width="5.35" height="27.00" fill="#ff9900"/>
<rect x="599.27" y="413.00" width="5.35" height="14.00" fill="#c0c0c0"/>
<rect x="605.20" y="134.00" width="5.35" height="23.00" fill="#333333"/>
<rect x="605.20" y="157.00" width="5.35" height="17.00" fill="#99cc00"/>
<rect x="605.20" y="174.00" width="5.35" height="7.00" fill="#ff9900"/>
<rect x="605.20" y="181.00" width="5.35" height="37.00" fill="#0a66cc"/>
<rect x="605.20" y="218.00" width="5.35" height="49.00" fill="#99ccff"/>
<rect x="605.20" y="267.00" width="5.35" height="24.00" fill="#ff99cc"/>
<rect x="605.20" y="291.00" width="5.35" height="61.00" fill="#f00000"/>
<rect x="605.20" y="352.00" width="5.35" height="29.00" fill="#2cc6f6"/>
<rect x="605.20" y="381.00" width="5.35" height="25.00" fill="#ff9900"/>
<rect x="605.20" y="406.00" width="5.35" height="21.00" fill="#c0c0c0"/>
<rect x="611.13" y="134.00" width="5.35" height="25.00" fill="#333333"/>
<rect x="611.13" y="159.00" width="5.35" height="18.00" fill="#99cc00"/>
<rect x="611.13" y="177.00" width="5.35" height="11.00" fill="#ff9900"/>
<rect x="611.13" y="188.00" width="5.35" height="37.00" fill="#0a66cc"/>
<rect x="611.13" y="225.00" width="5.35" height="46.00" fill="#99ccff"/>
<rect x="611.13" y="271.00" width="5.35" height="31.00" fill="#ff99cc"/>
<rect x="611.13" y="302.00" width="5.35" height="58.00" fill="#f00000"/>
<rect x="611.13" y="360.00" width="5.35" height="29.00" fill="#2cc6f6"/>
<rect x="611.13" y="389.00" width="5.35" height="23.00" fill="#ff9900"/>
<rect x="611.13" y="412.00" width="5.35" height="15.00" fill="#c0c0c0"/>
<rect x="617.06" y="134.00" width="5.35" height="23.00" fill="#333333"/>
<rect x="617.06" y="157.00" width="5.35" height="14.00" fill="#99cc00"/>
<rect x="617.06" y="171.00" width="5.35" height="16.00" fill="#ff9900"/>
<rect x="617.06" y="187.00" width="5.35" height="37.00" fill="#0a66cc"/>
<rect x="617.06" y="224.00" width="5.35" height="46.00" fill="#99ccff"/>
<rect x="617.06" y="270.00" width="5.35" height="34.00" fill="#ff99cc"/>
<rect x="617.06" y="304.00" width="5.35" height="62.00" fill="#f00000"/>
<rect x="617.06" y="366.00" width="5.35" height="25.00" fill="#2cc6f6"/>
<rect x="617.06" y="391.00" width="5.35" height="23.00" fill="#ff9900"/>
<rect x="617.06" y="414.00" width="5.35" height="13.00" fill="#c0c0c0"/>
<rect x="622.99" y="129.00" width="5.35" height="18.00" fill="#333333"/>
<rect x="622.99" y="147.00" width="5.35" height="15.00" fill="#99cc00"/>
<rect x="622.99" y="162.00" width="5.35" height="17.00" fill="#ff9900"/>
<rect x="622.99" y="179.00" width="5.35" height="34.00" fill="#0a66cc"/>
<rect x="622.99" y="213.00" width="5.35" height="46.00" fill="#99ccff"/>
<rect x="622.99" y="259.00" width="5.35" height="40.00" fill="#ff99cc"/>
<rect x="622.99" y="299.00" width="5.35" height="66.00" fill="#f00000"/>
<rect x="622.99" y="365.00" width="5.35" height="22.00" fill="#2cc6f6"/>
<rect x="622.99" y="387.00" width="5.35" height="23.00" fill="#ff9900"/>
<rect x="622.99" y="410.00" width="5.35" height="17.00" fill="#c0c0c0"/>
<rect x="628.92" y="128.00" width="5.35" height="18.00" fill="#333333"/>
<rect x="628.92" y="146.00" width="5.35" height="15.00" fill="#99cc00"/>
<rect x="628.92" y="161.00" width="5.35" height="20.00" fill="#ff9900"/>
<rect x="628.92" y="181.00" width="5.35" height="36.00" fill="#0a66cc"/>
<rect x="628.92" y="217.00" width="5.35" height="44.00" fill="#99ccff"/>
<rect x="628.92" y="261.00" width="5.35" height="46.00" fill="#ff99cc"/>
<rect x="628.92" y="307.00" width="5.35" height="63.00" fill="#f00000"/>
<rect x="628.92" y="370.00" width="5.35" height="19.00" fill="#2cc6f6"/>
<rect x="628.92" y="389.00" width="5.35" height="25.00" fill="#ff9900"/>
<rect x="628.92" y="414.00" width="5.35" height="13.00" fill="#c0c0c0"/>
<rect x="634.85" y="126.00" width="5.35" height="18.00" fill="#333333"/>
<rect x="634.85" y="144.00" width="5.35" height="15.00" fill="#99cc00"/>
<rect x="634.85" y="159.00" width="5.35" height="18.00" fill="#ff9900"/>
<rect x="634.85" y="177.00" width="5.35" height="37.00" fill="#0a66cc"/>
<rect x="634.85" y="214.00" width="5.35" height="44.00" fill="#99ccff"/>
<rect x="634.85" y="258.00" width="5.35" height="49.00" fill="#ff99cc"/>
<rect x="634.85" y="307.00" width="5.35" height="63.00" fill="#f00000"/>
<rect x="634.85" y="370.00" width="5.35" height="20.00" fill="#2cc6f6"/>
<rect x="634.85" y="390.00" width="5.35" height="22.00" fill="#ff9900"/>
<rect x="634.85" y="412.00" width="5.35" height="15.00" fill="#c0c0c0"/>
<rect x="640.78" y="117.00" width="5.35" height="11.00" fill="#333333"/>
<rect x="640.78" y="128.00" width="5.35" height="15.00" fill="#99cc00"/>
<rect x="640.78" y="143.00" width="5.35" height="23.00" fill="#ff9900"/>
<rect x="640.78" y="166.00" width="5.35" height="29.00" fill="#0a66cc"/>
<rect x="640.78" y="195.00" width="5.35" height="48.00" fill="#99ccff"/>
<rect x="640.78" y="243.00" width="5.35" height="56.00" fill="#ff99cc"/>
<rect x="640.78" y="299.00" width="5.35" height="75.00" fill="#f00000"/>
<rect x="640.78" y="374.00" width="5.35" height="19.00" fill="#2cc6f6"/>
<rect x="640.78" y="393.00" width="5.35" height="17.00" fill="#ff9900"/>
<rect x="640.78" y="410.00" width="5.35" height="17.00" fill="#c0c0c0"/>
<rect x="646.71" y="118.00" width="5.35" height="11.00" fill="#333333"/>
<rect x="646.71" y="129.00" width="5.35" height="13.00" fill="#99cc00"/>
<rect x="646.71" y="142.00" width="5.35" height="26.00" fill="#ff9900"/>
<rect x="646.71" y="168.00" width="5.35" height="32.00" fill="#0a66cc"/>
<rect x="646.71" y="200.00" width="5.35" height="48.00" fill="#99ccff"/>
<rect x="646.71" y="248.00" width="5.35" height="75.00" fill="#ff99cc"/>
<rect x="646.71" y="323.00" width="5.35" height="61.00" fill="#f00000"/>
<rect x="646.71" y="384.00" width="5.35" height="16.00" fill="#2cc6f6"/>
<rect x="646.71" y="400.00" width="5.35" height="14.00" fill="#ff9900"/>
<rect x="646.71" y="414.00" width="5.35" height="13.00" fill="#c0c0c0"/>
<rect x="652.64" y="112.00" width="5.35" height="10.00" fill="#333333"/>
<rect x="652.64" y="122.00" width="5.35" height="10.00" fill="#99cc00"/>
<rect x="652.64" y="132.00" width="5.35" height="23.00" fill="#ff9900"/>
<rect x="652.64" y="155.00" width="5.35" height="32.00" fill="#0a66cc"/>
<rect x="652.64" y="187.00" width="5.35" height="50.00" fill="#99ccff"/>
<rect x="652.64" y="237.00" width="5.35" height="89.00" fill="#ff99cc"/>
<rect x="652.64" y="326.00" width="5.35" height="64.00" fill="#f00000"/>
<rect x="652.64" y="390.00" width="5.35" height="12.00" fill="#2cc6f6"/>
<rect x="652.64" y="402.00" width="5.35" height="15.00" fill="#ff9900"/>
<rect x="652.64" y="417.00" width="5.35" height="10.00" fill="#c0c0c0"/>
<rect x="658.57" y="112.00" width="5.35" height="9.00" fill="#333333"/>
<rect x="658.57" y="121.00" width="5.35" height="11.00" fill="#99cc00"/>
<rect x="658.57" y="132.00" width="5.35" height="17.00" fill="#ff9900"/>
<rect x="658.57" y="149.00" width="5.35" height="33.00" fill="#0a66cc"/>
<rect x="658.57" y="182.00" width="5.35" height="44.00" fill="#99ccff"/>
<rect x="658.57" y="226.00" width="5.35" height="98.00" fill="#ff99cc"/>
<rect x="658.57" y="324.00" width="5.35" height="65.00" fill="#f00000"/>
<rect x="658.57" y="389.00" width="5.35" height="13.00" fill="#2cc6f6"/>
<rect x="658.57" y="402.00" width="5.35" height="14.00" fill="#ff9900"/>
<rect x="658.57" y="416.00" width="5.35" height="11.00" fill="#c0c0c0"/>
<rect x="664.50" y="111.00" width="5.35" height="11.00" fill="#333333"/>
<rect x="664.50" y="122.00" width="5.35" height="11.00" fill="#99cc00"/>
<rect x="664.50" y="133.00" width="5.35" height="17.00" fill="#ff9900"/>
<rect x="664.50" y="150.00" width="5.35" height="32.00" fill="#0a66cc"/>
<rect x="664.50" y="182.00" width="5.35" height="42.00" fill="#99ccff"/>
<rect x="664.50" y="224.00" width="5.35" height="107.00" fill="#ff99cc"/>
<rect x="664.50" y="331.00" width="5.35" height="63.00" fill="#f00000"/>
<rect x="664.50" y="394.00" width="5.35" height="12.00" fill="#2cc6f6"/>
<rect x="664.50" y="406.00" width="5.35" height="13.00" fill="#ff9900"/>
<rect x="664.50" y="419.00" width="5.35" height="8.00" fill="#c0c0c0"/>
<rect x="670.43" y="114.00" width="5.35" height="8.00" fill="#333333"/>
<rect x="670.43" y="122.00" width="5.35" height="12.00" fill="#99cc00"/>
<rect x="670.43" y="134.00" width="5.35" height="12.00" fill="#ff9900"/>
<rect x="670.43" y="146.00" width="5.35" height="32.00" fill="#0a66cc"/>
<rect x="670.43" y="178.00" width="5.35" height="38.00" fill="#99ccff"/>
<rect x="670.43" y="216.00" width="5.35" height="124.00" fill="#ff99cc"/>
<rect x="670.43" y="340.00" width="5.35" height="59.00" fill="#f00000"/>
<rect x="670.43" y="399.00" width="5.35" height="13.00" fill="#2cc6f6"/>
<rect x="670.43" y="412.00" width="5.35" height="10.00" fill="#ff9900"/>
<rect x="670.43" y="422.00" width="5.35" height="5.00" fill="#c0c0c0"/>
<rect x="676.36" y="117.00" width="5.35" height="10.00" fill="#333333"/>
<rect x="676.36" y="127.00" width="5.35" height="14.00" fill="#99cc00"/>
<rect x="676.36" y="141.00" width="5.35" height="14.00" fill="#ff9900"/>
<rect x="676.36" y="155.00" width="5.35" height="35.00" fill="#0a66cc"/>
<rect x="676.36" y="190.00" width="5.35" height="39.00" fill="#99ccff"/>
<rect x="676.36" y="229.00" width="5.35" height="107.00" fill="#ff99cc"/>
<rect x="676.36" y="336.00" width="5.35" height="58.00" fill="#f00000"/>
<rect x="676.36" y="394.00" width="5.35" height="16.00" fill="#2cc6f6"/>
<rect x="676.36" y="410.00" width="5.35" height="12.00" fill="#ff9900"/>
<rect x="676.36" y="422.00" width="5.35" height="5.00" fill="#c0c0c0"/>
<rect x="682.29" y="119.00" width="5.35" height="11.00" fill="#333333"/>
<rect x="682.29" y="130.00" width="5.35" height="13.00" fill="#99cc00"/>
<rect x="682.29" y="143.00" width="5.35" height="15.00" fill="#ff9900"/>
<rect x="682.29" y="158.00" width="5.35" height="31.00" fill="#0a66cc"/>
<rect x="682.29" y="189.00" width="5.35" height="42.00" fill="#99ccff"/>
<rect x="682.29" y="231.00" width="5.35" height="108.00" fill="#ff99cc"/>
<rect x="682.29" y="339.00" width="5.35" height="48.00" fill="#f00000"/>
<rect x="682.29" y="387.00" width="5.35" height="17.00" fill="#2cc6f6"/>
<rect x="682.29" y="404.00" width="5.35" height="14.00" fill="#ff9900"/>
<rect x="682.29" y="418.00" width="5.35" height="9.00" fill="#c0c0c0"/>
<rect x="688.22" y="115.00" width="5.35" height="9.00" fill="#333333"/>
<rect x="688.22" y="124.00" width="5.35" height="12.00" fill="#99cc00"/>
<rect x="688.22" y="136.00" width="5.35" height="18.00" fill="#ff9900"/>
<rect x="688.22" y="154.00" width="5.35" height="31.00" fill="#0a66cc"/>
<rect x="688.22" y="185.00" width="5.35" height="49.00" fill="#99ccff"/>
<rect x="688.22" y="234.00" width="5.35" height="110.00" fill="#ff99cc"/>
<rect x="688.22" y="344.00" width="5.35" height="47.00" fill="#f00000"/>
<rect x="688.22" y="391.00" width="5.35" height="15.00" fill="#2cc6f6"/>
<rect x="688.22" y="406.00" width="5.35" height="13.00" fill="#ff9900"/>
<rect x="688.22" y="419.00" width="5.35" height="8.00" fill="#c0c0c0"/>
<rect x="694.15" y="114.00" width="5.35" height="8.00" fill="#333333"/>
<rect x="694.15" y="122.00" width="5.35" height="11.00" fill="#99cc00"/>
<rect x="694.15" y="133.00" width="5.35" height="18.00" fill="#ff9900"/>
<rect x="694.15" y="151.00" width="5.35" height="34.00" fill="#0a66cc"/>
<rect x="694.15" y="185.00" width="5.35" height="46.00" fill="#99ccff"/>
<rect x="694.15" y="231.00" width="5.35" height="114.00" fill="#ff99cc"/>
<rect x="694.15" y="345.00" width="5.35" height="50.00" fill="#f00000"/>
<rect x="694.15" y="395.00" width="5.35" height="13.00" fill="#2cc6f6"/>
<rect x="694.15" y="408.00" width="5.35" height="12.00" fill="#ff9900"/>
<rect x="694.15" y="420.00" width="5.35" height="7.00" fill="#c0c0c0"/>
<rect x="700.08" y="110.00" width="5.35" height="8.00" fill="#333333"/>
<rect x="700.08" y="118.00" width="5.35" height="10.00" fill="#99cc00"/>
<rect x="700.08" y="128.00" width="5.35" height="14.00" fill="#ff9900"/>
<rect x="700.08" y="142.00" width="5.35" height="36.00" fill="#0a66cc"/>
<rect x="700.08" y="178.00" width="5.35" height="43.00" fill="#99ccff"/>
<rect x="700.08" y="221.00" width="5.35" height="122.00" fill="#ff99cc"/>
<rect x="700.08" y="343.00" width="5.35" height="52.00" fill="#f00000"/>
<rect x="700.08" y="395.00" width="5.35" height="13.00" fill="#2cc6f6"/>
<rect x="700.08" y="408.00" width="5.35" height="11.00" fill="#ff9900"/>
<rect x="700.08" y="419.00" width="5.35" height="8.00" fill="#c0c0c0"/>
<rect x="706.01" y="108.00" width="5.35" height="8.00" fill="#333333"/>
<rect x="706.01" y="116.00" width="5.35" height="7.00" fill="#99cc00"/>
<rect x="706.01" y="123.00" width="5.35" height="11.00" fill="#ff9900"/>
<rect x="706.01" y="134.00" width="5.35" height="33.00" fill="#0a66cc"/>
<rect x="706.01" y="167.00" width="5.35" height="40.00" fill="#99ccff"/>
<rect x="706.01" y="207.00" width="5.35" height="134.00" fill="#ff99cc"/>
<rect x="706.01" y="341.00" width="5.35" height="47.00" fill="#f00000"/>
<rect x="706.01" y="388.00" width="5.35" height="14.00" fill="#2cc6f6"/>
<rect x="706.01" y="402.00" width="5.35" height="11.00" fill="#ff9900"/>
<rect x="706.01" y="413.00" width="5.35" height="14.00" fill="#c0c0c0"/>
<path d="M41.85,108.00h5.35M41.85,117.00h5.35M41.85,124.00h5.35M41.85,143.60h5.35M41.85,173.00h5.35M47.78,113.00h5.35M47.78,117.00h5.35M47.78,118.40h5.35M47.78,124.00h5.35M47.78,137.60h5.35M47.78,190.00h5.35M53.71,137.00h5.35M53.71,146.00h5.35M53.71,147.60h5.35M53.71,153.00h5.35M53.71,154.40h5.35M53.71,184.00h5.35M53.71,233.00h5.35M59.64,160.00h5.35M59.64,181.00h5.35M59.64,185.00h5.35M59.64,188.00h5.35M59.64,191.60h5.35M59.64,207.00h5.35M59.64,271.00h5.35M65.57,140.00h5.35M65.57,150.40h5.35M65.57,155.00h5.35M65.57,158.00h5.35M65.57,160.40h5.35M65.57,165.00h5.35M65.57,174.00h5.35M65.57,269.00h5.35M71.50,134.00h5.35M71.50,141.00h5.35M71.50,147.00h5.35M71.50,152.00h5.35M71.50,158.00h5.35M71.50,170.00h5.35M71.50,277.00h5.35M77.43,142.00h5.35M77.43,149.00h5.35M77.43,152.00h5.35M77.43,155.00h5.35M77.43,157.00h5.35M77.43,165.00h5.35M77.43,184.00h5.35M77.43,246.00h5.35M83.36,142.00h5.35M83.36,150.00h5.35M83.36,156.00h5.35M83.36,159.00h5.35M83.36,160.40h5.35M83.36,171.00h5.35M83.36,198.00h5.35M83.36,217.00h5.35M89.29,144.00h5.35M89.29,154.00h5.35M89.29,156.00h5.35M89.29,158.00h5.35M89.29,174.00h5.35M89.29,252.00h5.35M89.29,278.00h5.35M95.22,193.00h5.35M95.22,196.00h5.35M95.22,207.00h5.35M95.22,210.60h5.35M95.22,213.70h5.35M95.22,225.60h5.35M95.22,249.00h5.35M95.22,275.00h5.35M101.15,140.00h5.35M101.15,157.00h5.35M101.15,192.00h5.35M101.15,200.00h5.35M101.15,203.00h5.35M101.15,215.60h5.35M101.15,260.00h5.35M101.15,273.00h5.35M107.08,129.00h5.35M107.08,158.00h5.35M107.08,180.60h5.35M107.08,193.00h5.35M107.08,198.70h5.35M107.08,210.00h5.35M107.08,238.00h5.35M107.08,245.00h5.35M113.01,135.00h5.35M113.01,141.00h5.35M113.01,147.60h5.35M113.01,168.00h5.35M113.01,175.00h5.35M113.01,191.00h5.35M113.01,215.60h5.35M113.01,247.00h5.35M118.94,146.00h5.35M118.94,162.00h5.35M118.94,168.70h5.35M118.94,178.70h5.35M118.94,182.50h5.35M118.94,190.00h5.35M118.94,215.60h5.35M118.94,258.00h5.35M124.87,123.00h5.35M124.87,133.00h5.35M124.87,150.00h5.35M124.87,162.00h5.35M124.87,165.00h5.35M124.87,184.40h5.35M124.87,207.50h5.35M124.87,274.00h5.35M130.80,124.00h5.35M130.80,129.00h5.35M130.80,138.00h5.35M130.80,146.00h5.35M130.80,149.60h5.35M130.80,175.00h5.35M130.80,202.50h5.35M130.80,278.00h5.35M136.73,135.00h5.35M136.73,141.00h5.35M136.73,145.00h5.35M136.73,154.00h5.35M136.73,162.00h5.35M136.73,194.40h5.35M136.73,214.40h5.35M136.73,299.00h5.35M142.66,127.00h5.35M142.66,133.00h5.35M142.66,138.00h5.35M142.66,145.00h5.35M142.66,149.00h5.35M142.66,172.00h5.35M142.66,190.60h5.35M142.66,283.00h5.35M148.59,129.00h5.35M148.59,136.00h5.35M148.59,144.00h5.35M148.59,153.00h5.35M148.59,157.00h5.35M148.59,181.00h5.35M148.59,210.60h5.35M148.59,290.00h5.35M154.52,119.00h5.35M154.52,129.00h5.35M154.52,138.00h5.35M154.52,145.00h5.35M154.52,149.00h5.35M154.52,173.00h5.35M154.52,215.60h5.35M154.52,313.00h5.35M160.45,120.00h5.35M160.45,129.00h5.35M160.45,134.00h5.35M160.45,143.00h5.35M160.45,146.00h5.35M160.45,175.00h5.35M160.45,197.50h5.35M160.45,296.00h5.35M166.38,122.00h5.35M166.38,131.00h5.35M166.38,153.00h5.35M166.38,162.00h5.35M166.38,167.00h5.35M166.38,194.40h5.35M166.38,208.00h5.35M166.38,302.00h5.35M172.31,118.00h5.35M172.31,123.00h5.35M172.31,139.00h5.35M172.31,147.00h5.35M172.31,151.00h5.35M172.31,166.00h5.35M172.31,181.00h5.35M172.31,247.00h5.35M178.24,115.00h5.35M178.24,120.00h5.35M178.24,131.00h5.35M178.24,137.00h5.35M178.24,140.00h5.35M178.24,151.00h5.35M178.24,180.60h5.35M178.24,190.60h5.35M178.24,254.00h5.35M184.17,114.00h5.35M184.17,117.00h5.35M184.17,122.00h5.35M184.17,128.00h5.35M184.17,130.00h5.35M184.17,146.00h5.35M184.17,182.00h5.35M184.17,196.00h5.35M184.17,246.00h5.35M190.10,112.00h5.35M190.10,113.00h5.35M190.10,118.00h5.35M190.10,123.00h5.35M190.10,126.00h5.35M190.10,144.00h5.35M190.10,175.00h5.35M190.10,185.60h5.35M190.10,238.00h5.35M196.03,116.00h5.35M196.03,119.00h5.35M196.03,124.00h5.35M196.03,129.00h5.35M196.03,166.00h5.35M196.03,174.00h5.35M196.03,250.00h5.35M201.96,129.60h5.35M201.96,132.00h5.35M201.96,136.00h5.35M201.96,142.00h5.35M201.96,145.00h5.35M201.96,153.00h5.35M201.96,188.00h5.35M201.96,196.00h5.35M201.96,237.00h5.35M207.89,131.00h5.35M207.89,133.00h5.35M207.89,136.00h5.35M207.89,141.00h5.35M207.89,144.00h5.35M207.89,147.00h5.35M207.89,190.00h5.35M207.89,214.00h5.35M207.89,255.00h5.35M213.82,133.00h5.35M213.82,134.40h5.35M213.82,137.60h5.35M213.82,143.00h5.35M213.82,145.00h5.35M213.82,147.00h5.35M213.82,166.00h5.35M213.82,206.00h5.35M213.82,262.00h5.35M219.75,143.00h5.35M219.75,145.00h5.35M219.75,147.60h5.35M219.75,154.00h5.35M219.75,156.00h5.35M219.75,159.00h5.35M219.75,169.40h5.35M219.75,194.40h5.35M219.75,244.40h5.35M225.68,139.00h5.35M225.68,141.00h5.35M225.68,145.00h5.35M225.68,153.00h5.35M225.68,155.00h5.35M225.68,163.00h5.35M225.68,174.00h5.35M225.68,219.00h5.35M225.68,264.00h5.35M231.61,129.00h5.35M231.61,132.40h5.35M231.61,136.00h5.35M231.61,146.00h5.35M231.61,147.60h5.35M231.61,151.00h5.35M231.61,161.00h5.35M231.61,212.50h5.35M231.61,238.00h5.35M237.54,153.00h5.35M237.54,165.00h5.35M237.54,171.60h5.35M237.54,185.60h5.35M237.54,189.00h5.35M237.54,195.60h5.35M237.54,206.00h5.35M237.54,305.00h5.35M243.47,182.50h5.35M243.47,194.40h5.35M243.47,210.60h5.35M243.47,222.50h5.35M243.47,226.00h5.35M243.47,341.00h5.35M249.40,220.60h5.35M249.40,225.60h5.35M249.40,243.75h5.35M249.40,331.00h5.35M255.33,226.00h5.35M255.33,240.00h5.35M255.33,262.50h5.35M255.33,332.00h5.35M255.33,335.00h5.35M261.26,203.00h5.35M261.26,210.00h5.35M261.26,243.75h5.35M261.26,310.00h5.35M261.26,314.00h5.35M267.19,168.00h5.35M267.19,173.00h5.35M267.19,200.60h5.35M267.19,213.00h5.35M267.19,219.40h5.35M267.19,222.00h5.35M267.19,270.50h5.35M267.19,306.00h5.35M273.12,160.00h5.35M273.12,165.00h5.35M273.12,179.40h5.35M273.12,199.40h5.35M273.12,207.00h5.35M273.12,213.75h5.35M273.12,219.00h5.35M273.12,270.00h5.35M273.12,330.00h5.35M279.05,163.00h5.35M279.05,167.50h5.35M279.05,190.60h5.35M279.05,202.50h5.35M279.05,207.50h5.35M279.05,211.00h5.35M279.05,240.00h5.35M279.05,298.00h5.35M284.98,161.00h5.35M284.98,166.00h5.35M284.98,185.00h5.35M284.98,194.40h5.35M284.98,197.75h5.35M284.98,202.50h5.35M284.98,222.50h5.35M284.98,284.00h5.35M290.91,161.00h5.35M290.91,166.00h5.35M290.91,187.50h5.35M290.91,194.40h5.35M290.91,198.75h5.35M290.91,212.00h5.35M290.91,239.40h5.35M290.91,296.00h5.35M296.84,153.00h5.35M296.84,163.00h5.35M296.84,185.00h5.35M296.84,237.50h5.35M296.84,315.00h5.35M302.77,174.40h5.35M302.77,189.40h5.35M302.77,212.00h5.35M302.77,250.00h5.35M302.77,325.00h5.35M308.70,145.00h5.35M308.70,162.00h5.35M308.70,194.40h5.35M308.70,217.50h5.35M308.70,288.00h5.35M314.63,165.00h5.35M314.63,182.50h5.35M314.63,206.00h5.35M314.63,228.00h5.35M314.63,305.00h5.35M320.56,163.00h5.35M320.56,183.00h5.35M320.56,209.00h5.35M320.56,231.00h5.35M320.56,304.00h5.35M326.49,163.00h5.35M326.49,183.75h5.35M326.49,187.00h5.35M326.49,222.00h5.35M326.49,246.00h5.35M326.49,318.00h5.35M332.42,165.00h5.35M332.42,185.60h5.35M332.42,188.75h5.35M332.42,234.00h5.35M332.42,256.00h5.35M332.42,334.00h5.35M338.35,182.50h5.35M338.35,202.00h5.35M338.35,207.00h5.35M338.35,246.00h5.35M338.35,266.00h5.35M338.35,338.00h5.35M344.28,174.40h5.35M344.28,193.75h5.35M344.28,200.00h5.35M344.28,241.00h5.35M344.28,266.00h5.35M344.28,322.00h5.35M350.21,182.50h5.35M350.21,198.00h5.35M350.21,205.00h5.35M350.21,252.50h5.35M350.21,278.00h5.35M350.21,340.00h5.35M356.14,183.00h5.35M356.14,203.75h5.35M356.14,218.00h5.35M356.14,272.00h5.35M356.14,296.00h5.35M356.14,349.00h5.35M362.07,178.75h5.35M362.07,198.00h5.35M362.07,219.40h5.35M362.07,274.00h5.35M362.07,309.00h5.35M362.07,363.00h5.35M368.00,182.50h5.35M368.00,203.00h5.35M368.00,224.40h5.35M368.00,276.00h5.35M368.00,317.00h5.35M368.00,366.00h5.35M373.93,186.00h5.35M373.93,207.00h5.35M373.93,227.50h5.35M373.93,283.00h5.35M373.93,318.00h5.35M373.93,366.00h5.35M379.86,190.60h5.35M379.86,213.75h5.35M379.86,230.60h5.35M379.86,285.00h5.35M379.86,319.00h5.35M379.86,362.00h5.35M385.79,183.75h5.35M385.79,208.75h5.35M385.79,222.50h5.35M385.79,278.00h5.35M385.79,320.00h5.35M385.79,370.00h5.35M391.72,193.75h5.35M391.72,222.00h5.35M391.72,238.00h5.35M391.72,300.00h5.35M391.72,339.00h5.35M391.72,382.00h5.35M397.65,182.50h5.35M397.65,213.75h5.35M397.65,230.00h5.35M397.65,298.00h5.35M397.65,342.00h5.35M397.65,380.00h5.35M403.58,175.60h5.35M403.58,208.00h5.35M403.58,215.00h5.35M403.58,295.00h5.35M403.58,344.00h5.35M403.58,384.00h5.35M409.51,171.00h5.35M409.51,177.00h5.35M409.51,200.00h5.35M409.51,211.00h5.35M409.51,221.00h5.35M409.51,303.00h5.35M409.51,349.00h5.35M409.51,387.00h5.35M415.44,178.00h5.35M415.44,191.00h5.35M415.44,212.00h5.35M415.44,223.00h5.35M415.44,228.00h5.35M415.44,317.00h5.35M415.44,358.00h5.35M415.44,390.00h5.35M421.37,177.00h5.35M421.37,191.00h5.35M421.37,213.00h5.35M421.37,226.00h5.35M421.37,230.00h5.35M421.37,320.00h5.35M421.37,362.00h5.35M421.37,396.00h5.35M427.30,170.00h5.35M427.30,177.00h5.35M427.30,198.00h5.35M427.30,210.00h5.35M427.30,214.00h5.35M427.30,316.00h5.35M427.30,357.00h5.35M427.30,394.00h5.35M433.23,180.00h5.35M433.23,191.00h5.35M433.23,213.00h5.35M433.23,227.00h5.35M433.23,235.00h5.35M433.23,335.00h5.35M433.23,371.00h5.35M433.23,405.00h5.35M439.16,185.00h5.35M439.16,202.00h5.35M439.16,226.00h5.35M439.16,240.00h5.35M439.16,250.00h5.35M439.16,341.00h5.35M439.16,374.00h5.35M439.16,410.00h5.35M445.09,170.00h5.35M445.09,187.00h5.35M445.09,209.00h5.35M445.09,224.00h5.35M445.09,231.00h5.35M445.09,341.00h5.35M445.09,374.00h5.35M445.09,412.00h5.35M451.02,169.00h5.35M451.02,187.00h5.35M451.02,208.00h5.35M451.02,222.00h5.35M451.02,229.00h5.35M451.02,342.00h5.35M451.02,371.00h5.35M451.02,411.00h5.35M456.95,160.00h5.35M456.95,181.00h5.35M456.95,203.00h5.35M456.95,223.00h5.35M456.95,238.00h5.35M456.95,343.00h5.35M456.95,378.00h5.35M456.95,414.00h5.35M462.88,161.00h5.35M462.88,179.00h5.35M462.88,204.00h5.35M462.88,228.00h5.35M462.88,239.00h5.35M462.88,337.00h5.35M462.88,378.00h5.35M462.88,414.00h5.35M468.81,169.00h5.35M468.81,195.00h5.35M468.81,219.00h5.35M468.81,236.00h5.35M468.81,253.00h5.35M468.81,342.00h5.35M468.81,378.00h5.35M468.81,411.00h5.35M474.74,170.00h5.35M474.74,196.00h5.35M474.74,223.00h5.35M474.74,245.00h5.35M474.74,257.00h5.35M474.74,348.00h5.35M474.74,384.00h5.35M474.74,414.00h5.35M480.67,167.00h5.35M480.67,194.00h5.35M480.67,222.00h5.35M480.67,248.00h5.35M480.67,259.00h5.35M480.67,349.00h5.35M480.67,385.00h5.35M480.67,414.00h5.35M486.60,170.00h5.35M486.60,195.00h5.35M486.60,223.00h5.35M486.60,251.00h5.35M486.60,260.00h5.35M486.60,349.00h5.35M486.60,383.00h5.35M486.60,410.00h5.35M492.53,166.00h5.35M492.53,190.00h5.35M492.53,216.00h5.35M492.53,248.00h5.35M492.53,256.00h5.35M492.53,346.00h5.35M492.53,382.00h5.35M492.53,412.00h5.35M498.46,162.00h5.35M498.46,189.00h5.35M498.46,214.00h5.35M498.46,249.00h5.35M498.46,257.00h5.35M498.46,347.00h5.35M498.46,384.00h5.35M498.46,417.00h5.35M504.39,163.00h5.35M504.39,187.00h5.35M504.39,206.00h5.35M504.39,238.00h5.35M504.39,254.00h5.35M504.39,348.00h5.35M504.39,380.00h5.35M504.39,415.00h5.35M510.32,163.00h5.35M510.32,186.00h5.35M510.32,202.00h5.35M510.32,237.00h5.35M510.32,252.00h5.35M510.32,337.00h5.35M510.32,374.00h5.35M510.32,414.00h5.35M516.25,162.00h5.35M516.25,181.00h5.35M516.25,200.00h5.35M516.25,242.00h5.35M516.25,252.00h5.35M516.25,339.00h5.35M516.25,376.00h5.35M516.25,414.00h5.35M522.18,150.00h5.35M522.18,167.00h5.35M522.18,170.00h5.35M522.18,199.00h5.35M522.18,243.00h5.35M522.18,253.00h5.35M522.18,342.00h5.35M522.18,377.00h5.35M522.18,415.00h5.35M528.11,150.00h5.35M528.11,168.00h5.35M528.11,172.00h5.35M528.11,206.00h5.35M528.11,246.00h5.35M528.11,255.00h5.35M528.11,341.00h5.35M528.11,378.00h5.35M528.11,415.00h5.35M534.04,149.00h5.35M534.04,161.00h5.35M534.04,164.00h5.35M534.04,205.00h5.35M534.04,249.00h5.35M534.04,257.00h5.35M534.04,347.00h5.35M534.04,384.00h5.35M534.04,416.00h5.35M539.97,145.00h5.35M539.97,159.00h5.35M539.97,162.00h5.35M539.97,205.00h5.35M539.97,255.00h5.35M539.97,264.00h5.35M539.97,352.00h5.35M539.97,383.00h5.35M539.97,415.00h5.35M545.90,150.00h5.35M545.90,161.00h5.35M545.90,166.00h5.35M545.90,213.00h5.35M545.90,264.00h5.35M545.90,277.00h5.35M545.90,359.00h5.35M545.90,386.00h5.35M545.90,412.00h5.35M551.83,153.00h5.35M551.83,165.00h5.35M551.83,170.00h5.35M551.83,215.00h5.35M551.83,269.00h5.35M551.83,282.00h5.35M551.83,363.00h5.35M551.83,387.00h5.35M551.83,414.00h5.35M557.76,157.00h5.35M557.76,165.00h5.35M557.76,170.00h5.35M557.76,220.00h5.35M557.76,275.00h5.35M557.76,289.00h5.35M557.76,367.00h5.35M557.76,390.00h5.35M557.76,416.00h5.35M563.69,160.00h5.35M563.69,173.00h5.35M563.69,178.00h5.35M563.69,227.00h5.35M563.69,284.00h5.35M563.69,300.00h5.35M563.69,370.00h5.35M563.69,390.00h5.35M563.69,415.00h5.35M569.62,162.00h5.35M569.62,179.00h5.35M569.62,185.00h5.35M569.62,235.00h5.35M569.62,292.00h5.35M569.62,307.00h5.35M569.62,370.00h5.35M569.62,392.00h5.35M569.62,417.00h5.35M575.55,158.00h5.35M575.55,175.00h5.35M575.55,181.00h5.35M575.55,223.00h5.35M575.55,280.00h5.35M575.55,294.00h5.35M575.55,358.00h5.35M575.55,388.00h5.35M575.55,416.00h5.35M581.48,158.00h5.35M581.48,175.00h5.35M581.48,182.00h5.35M581.48,222.00h5.35M581.48,275.00h5.35M581.48,290.00h5.35M581.48,352.00h5.35M581.48,382.00h5.35M581.48,410.00h5.35M587.41,157.00h5.35M587.41,174.00h5.35M587.41,179.00h5.35M587.41,220.00h5.35M587.41,275.00h5.35M587.41,291.00h5.35M587.41,354.00h5.35M587.41,387.00h5.35M587.41,412.00h5.35M593.34,155.00h5.35M593.34,170.00h5.35M593.34,176.00h5.35M593.34,217.00h5.35M593.34,273.00h5.35M593.34,291.00h5.35M593.34,355.00h5.35M593.34,388.00h5.35M593.34,414.00h5.35M599.27,155.00h5.35M599.27,174.00h5.35M599.27,181.00h5.35M599.27,220.00h5.35M599.27,272.00h5.35M599.27,294.00h5.35M599.27,354.00h5.35M599.27,386.00h5.35M599.27,413.00h5.35M605.20,157.00h5.35M605.20,174.00h5.35M605.20,181.00h5.35M605.20,218.00h5.35M605.20,267.00h5.35M605.20,291.00h5.35M605.20,352.00h5.35M605.20,381.00h5.35M605.20,406.00h5.35M611.13,159.00h5.35M611.13,177.00h5.35M611.13,188.00h5.35M611.13,225.00h5.35M611.13,271.00h5.35M611.13,302.00h5.35M611.13,360.00h5.35M611.13,389.00h5.35M611.13,412.00h5.35M617.06,157.00h5.35M617.06,171.00h5.35M617.06,187.00h5.35M617.06,224.00h5.35M617.06,270.00h5.35M617.06,304.00h5.35M617.06,366.00h5.35M617.06,391.00h5.35M617.06,414.00h5.35M622.99,147.00h5.35M622.99,162.00h5.35M622.99,179.00h5.35M622.99,213.00h5.35M622.99,259.00h5.35M622.99,299.00h5.35M622.99,365.00h5.35M622.99,387.00h5.35M622.99,410.00h5.35M628.92,146.00h5.35M628.92,161.00h5.35M628.92,181.00h5.35M628.92,217.00h5.35M628.92,261.00h5.35M628.92,307.00h5.35M628.92,370.00h5.35M628.92,389.00h5.35M628.92,414.00h5.35M634.85,144.00h5.35M634.85,159.00h5.35M634.85,177.00h5.35M634.85,214.00h5.35M634.85,258.00h5.35M634.85,307.00h5.35M634.85,370.00h5.35M634.85,390.00h5.35M634.85,412.00h5.35M640.78,128.00h5.35M640.78,143.00h5.35M640.78,166.00h5.35M640.78,195.00h5.35M640.78,243.00h5.35M640.78,299.00h5.35M640.78,374.00h5.35M640.78,393.00h5.35M640.78,410.00h5.35M646.71,129.00h5.35M646.71,142.00h5.35M646.71,168.00h5.35M646.71,200.00h5.35M646.71,248.00h5.35M646.71,323.00h5.35M646.71,384.00h5.35M646.71,400.00h5.35M646.71,414.00h5.35M652.64,122.00h5.35M652.64,132.00h5.35M652.64,155.00h5.35M652.64,187.00h5.35M652.64,237.00h5.35M652.64,326.00h5.35M652.64,390.00h5.35M652.64,402.00h5.35M652.64,417.00h5.35M658.57,121.00h5.35M658.57,132.00h5.35M658.57,149.00h5.35M658.57,182.00h5.35M658.57,226.00h5.35M658.57,324.00h5.35M658.57,389.00h5.35M658.57,402.00h5.35M658.57,416.00h5.35M664.50,122.00h5.35M664.50,133.00h5.35M664.50,150.00h5.35M664.50,182.00h5.35M664.50,224.00h5.35M664.50,331.00h5.35M664.50,394.00h5.35M664.50,406.00h5.35M664.50,419.00h5.35M670.43,122.00h5.35M670.43,134.00h5.35M670.43,146.00h5.35M670.43,178.00h5.35M670.43,216.00h5.35M670.43,340.00h5.35M670.43,399.00h5.35M670.43,412.00h5.35M670.43,422.00h5.35M676.36,127.00h5.35M676.36,141.00h5.35M676.36,155.00h5.35M676.36,190.00h5.35M676.36,229.00h5.35M676.36,336.00h5.35M676.36,394.00h5.35M676.36,410.00h5.35M676.36,422.00h5.35M682.29,130.00h5.35M682.29,143.00h5.35M682.29,158.00h5.35M682.29,189.00h5.35M682.29,231.00h5.35M682.29,339.00h5.35M682.29,387.00h5.35M682.29,404.00h5.35M682.29,418.00h5.35M688.22,124.00h5.35M688.22,136.00h5.35M688.22,154.00h5.35M688.22,185.00h5.35M688.22,234.00h5.35M688.22,344.00h5.35M688.22,391.00h5.35M688.22,406.00h5.35M688.22,419.00h5.35M694.15,122.00h5.35M694.15,133.00h5.35M694.15,151.00h5.35M694.15,185.00h5.35M694.15,231.00h5.35M694.15,345.00h5.35M694.15,395.00h5.35M694.15,408.00h5.35M694.15,420.00h5.35M700.08,118.00h5.35M700.08,128.00h5.35M700.08,142.00h5.35M700.08,178.00h5.35M700.08,221.00h5.35M700.08,343.00h5.35M700.08,395.00h5.35M700.08,408.00h5.35M700.08,419.00h5.35M706.01,116.00h5.35M706.01,123.00h5.35M706.01,134.00h5.35M706.01,167.00h5.35M706.01,207.00h5.35M706.01,341.00h5.35M706.01,388.00h5.35M706.01,402.00h5.35M706.01,413.00h5.35" stroke="#ffffff" stroke-opacity="0.4" stroke-width="0.7" fill="none"/>
<line x1="47.49" y1="78.5" x2="47.49" y2="104.0" stroke="#c2c2c2" stroke-width="0.9"/>
<line x1="53.42" y1="78.5" x2="53.42" y2="129.0" stroke="#c2c2c2" stroke-width="0.9"/>
<line x1="59.35" y1="78.5" x2="59.35" y2="151.0" stroke="#c2c2c2" stroke-width="0.9"/>
<line x1="65.28" y1="78.5" x2="65.28" y2="151.0" stroke="#c2c2c2" stroke-width="0.9"/>
<line x1="71.21" y1="78.5" x2="71.21" y2="129.0" stroke="#c2c2c2" stroke-width="0.9"/>
<line x1="77.14" y1="78.5" x2="77.14" y2="130.0" stroke="#c2c2c2" stroke-width="0.9"/>
<line x1="83.07" y1="78.5" x2="83.07" y2="130.0" stroke="#c2c2c2" stroke-width="0.9"/>
<line x1="89.00" y1="78.5" x2="89.00" y2="129.0" stroke="#c2c2c2" stroke-width="0.9"/>
<line x1="94.93" y1="78.5" x2="94.93" y2="183.0" stroke="#c2c2c2" stroke-width="0.9"/>
<line x1="100.86" y1="78.5" x2="100.86" y2="183.0" stroke="#c2c2c2" stroke-width="0.9"/>
<line x1="106.79" y1="78.5" x2="106.79" y2="124.0" stroke="#c2c2c2" stroke-width="0.9"/>
<line x1="112.72" y1="78.5" x2="112.72" y2="119.0" stroke="#c2c2c2" stroke-width="0.9"/>
<line x1="118.65" y1="78.5" x2="118.65" y2="127.0" stroke="#c2c2c2" stroke-width="0.9"/>
<line x1="124.58" y1="78.5" x2="124.58" y2="127.0" stroke="#c2c2c2" stroke-width="0.9"/>
<line x1="130.51" y1="78.5" x2="130.51" y2="113.0" stroke="#c2c2c2" stroke-width="0.9"/>
<line x1="136.44" y1="78.5" x2="136.44" y2="122.0" stroke="#c2c2c2" stroke-width="0.9"/>
<line x1="142.37" y1="78.5" x2="142.37" y2="122.0" stroke="#c2c2c2" stroke-width="0.9"/>
<line x1="148.30" y1="78.5" x2="148.30" y2="118.0" stroke="#c2c2c2" stroke-width="0.9"/>
<line x1="154.23" y1="78.5" x2="154.23" y2="118.0" stroke="#c2c2c2" stroke-width="0.9"/>
<line x1="160.16" y1="78.5" x2="160.16" y2="112.0" stroke="#c2c2c2" stroke-width="0.9"/>
<line x1="166.09" y1="78.5" x2="166.09" y2="114.0" stroke="#c2c2c2" stroke-width="0.9"/>
<line x1="172.02" y1="78.5" x2="172.02" y2="114.0" stroke="#c2c2c2" stroke-width="0.9"/>
<line x1="177.95" y1="78.5" x2="177.95" y2="109.0" stroke="#c2c2c2" stroke-width="0.9"/>
<line x1="183.88" y1="78.5" x2="183.88" y2="107.0" stroke="#c2c2c2" stroke-width="0.9"/>
<line x1="189.81" y1="78.5" x2="189.81" y2="107.0" stroke="#c2c2c2" stroke-width="0.9"/>
<line x1="195.74" y1="78.5" x2="195.74" y2="107.6" stroke="#c2c2c2" stroke-width="0.9"/>
<line x1="201.67" y1="78.5" x2="201.67" y2="121.0" stroke="#c2c2c2" stroke-width="0.9"/>
<line x1="207.60" y1="78.5" x2="207.60" y2="122.0" stroke="#c2c2c2" stroke-width="0.9"/>
<line x1="213.53" y1="78.5" x2="213.53" y2="122.0" stroke="#c2c2c2" stroke-width="0.9"/>
<line x1="219.46" y1="78.5" x2="219.46" y2="130.0" stroke="#c2c2c2" stroke-width="0.9"/>
<line x1="225.39" y1="78.5" x2="225.39" y2="130.0" stroke="#c2c2c2" stroke-width="0.9"/>
<line x1="231.32" y1="78.5" x2="231.32" y2="124.0" stroke="#c2c2c2" stroke-width="0.9"/>
<line x1="237.25" y1="78.5" x2="237.25" y2="137.0" stroke="#c2c2c2" stroke-width="0.9"/>
<line x1="243.18" y1="78.5" x2="243.18" y2="169.0" stroke="#c2c2c2" stroke-width="0.9"/>
<line x1="249.11" y1="78.5" x2="249.11" y2="200.6" stroke="#c2c2c2" stroke-width="0.9"/>
<line x1="255.04" y1="78.5" x2="255.04" y2="210.0" stroke="#c2c2c2" stroke-width="0.9"/>
<line x1="260.97" y1="78.5" x2="260.97" y2="210.0" stroke="#c2c2c2" stroke-width="0.9"/>
<line x1="266.90" y1="78.5" x2="266.90" y2="188.8" stroke="#c2c2c2" stroke-width="0.9"/>
<line x1="272.83" y1="78.5" x2="272.83" y2="157.0" stroke="#c2c2c2" stroke-width="0.9"/>
<line x1="278.76" y1="78.5" x2="278.76" y2="152.0" stroke="#c2c2c2" stroke-width="0.9"/>
<line x1="284.69" y1="78.5" x2="284.69" y2="152.0" stroke="#c2c2c2" stroke-width="0.9"/>
<line x1="290.62" y1="78.5" x2="290.62" y2="151.0" stroke="#c2c2c2" stroke-width="0.9"/>
<line x1="296.55" y1="78.5" x2="296.55" y2="151.0" stroke="#c2c2c2" stroke-width="0.9"/>
<line x1="302.48" y1="78.5" x2="302.48" y2="156.0" stroke="#c2c2c2" stroke-width="0.9"/>
<line x1="308.41" y1="78.5" x2="308.41" y2="156.0" stroke="#c2c2c2" stroke-width="0.9"/>
<line x1="314.34" y1="78.5" x2="314.34" y2="152.0" stroke="#c2c2c2" stroke-width="0.9"/>
<line x1="320.27" y1="78.5" x2="320.27" y2="152.0" stroke="#c2c2c2" stroke-width="0.9"/>
<line x1="326.20" y1="78.5" x2="326.20" y2="147.0" stroke="#c2c2c2" stroke-width="0.9"/>
<line x1="332.13" y1="78.5" x2="332.13" y2="149.0" stroke="#c2c2c2" stroke-width="0.9"/>
<line x1="338.06" y1="78.5" x2="338.06" y2="160.0" stroke="#c2c2c2" stroke-width="0.9"/>
<line x1="343.99" y1="78.5" x2="343.99" y2="160.0" stroke="#c2c2c2" stroke-width="0.9"/>
<line x1="349.92" y1="78.5" x2="349.92" y2="163.0" stroke="#c2c2c2" stroke-width="0.9"/>
<line x1="355.85" y1="78.5" x2="355.85" y2="163.0" stroke="#c2c2c2" stroke-width="0.9"/>
<line x1="361.78" y1="78.5" x2="361.78" y2="163.0" stroke="#c2c2c2" stroke-width="0.9"/>
<line x1="367.71" y1="78.5" x2="367.71" y2="163.0" stroke="#c2c2c2" stroke-width="0.9"/>
<line x1="373.64" y1="78.5" x2="373.64" y2="167.0" stroke="#c2c2c2" stroke-width="0.9"/>
<line x1="379.57" y1="78.5" x2="379.57" y2="171.0" stroke="#c2c2c2" stroke-width="0.9"/>
<line x1="385.50" y1="78.5" x2="385.50" y2="171.0" stroke="#c2c2c2" stroke-width="0.9"/>
<line x1="391.43" y1="78.5" x2="391.43" y2="175.0" stroke="#c2c2c2" stroke-width="0.9"/>
<line x1="397.36" y1="78.5" x2="397.36" y2="175.0" stroke="#c2c2c2" stroke-width="0.9"/>
<line x1="403.29" y1="78.5" x2="403.29" y2="165.6" stroke="#c2c2c2" stroke-width="0.9"/>
<line x1="409.22" y1="78.5" x2="409.22" y2="161.0" stroke="#c2c2c2" stroke-width="0.9"/>
<line x1="415.15" y1="78.5" x2="415.15" y2="161.0" stroke="#c2c2c2" stroke-width="0.9"/>
<line x1="421.08" y1="78.5" x2="421.08" y2="161.0" stroke="#c2c2c2" stroke-width="0.9"/>
<line x1="427.01" y1="78.5" x2="427.01" y2="159.0" stroke="#c2c2c2" stroke-width="0.9"/>
<line x1="432.94" y1="78.5" x2="432.94" y2="159.0" stroke="#c2c2c2" stroke-width="0.9"/>
<line x1="438.87" y1="78.5" x2="438.87" y2="167.0" stroke="#c2c2c2" stroke-width="0.9"/>
<line x1="444.80" y1="78.5" x2="444.80" y2="167.0" stroke="#c2c2c2" stroke-width="0.9"/>
<line x1="450.73" y1="78.5" x2="450.73" y2="155.0" stroke="#c2c2c2" stroke-width="0.9"/>
<line x1="456.66" y1="78.5" x2="456.66" y2="154.0" stroke="#c2c2c2" stroke-width="0.9"/>
<line x1="462.59" y1="78.5" x2="462.59" y2="145.0" stroke="#c2c2c2" stroke-width="0.9"/>
<line x1="468.52" y1="78.5" x2="468.52" y2="155.0" stroke="#c2c2c2" stroke-width="0.9"/>
<line x1="474.45" y1="78.5" x2="474.45" y2="155.0" stroke="#c2c2c2" stroke-width="0.9"/>
<line x1="480.38" y1="78.5" x2="480.38" y2="155.0" stroke="#c2c2c2" stroke-width="0.9"/>
<line x1="486.31" y1="78.5" x2="486.31" y2="154.0" stroke="#c2c2c2" stroke-width="0.9"/>
<line x1="492.24" y1="78.5" x2="492.24" y2="154.0" stroke="#c2c2c2" stroke-width="0.9"/>
<line x1="498.17" y1="78.5" x2="498.17" y2="147.0" stroke="#c2c2c2" stroke-width="0.9"/>
<line x1="504.10" y1="78.5" x2="504.10" y2="147.0" stroke="#c2c2c2" stroke-width="0.9"/>
<line x1="510.03" y1="78.5" x2="510.03" y2="147.0" stroke="#c2c2c2" stroke-width="0.9"/>
<line x1="515.96" y1="78.5" x2="515.96" y2="147.0" stroke="#c2c2c2" stroke-width="0.9"/>
<line x1="521.89" y1="78.5" x2="521.89" y2="145.0" stroke="#c2c2c2" stroke-width="0.9"/>
<line x1="527.82" y1="78.5" x2="527.82" y2="134.0" stroke="#c2c2c2" stroke-width="0.9"/>
<line x1="533.75" y1="78.5" x2="533.75" y2="134.0" stroke="#c2c2c2" stroke-width="0.9"/>
<line x1="539.68" y1="78.5" x2="539.68" y2="133.0" stroke="#c2c2c2" stroke-width="0.9"/>
<line x1="545.61" y1="78.5" x2="545.61" y2="132.0" stroke="#c2c2c2" stroke-width="0.9"/>
<line x1="551.54" y1="78.5" x2="551.54" y2="134.0" stroke="#c2c2c2" stroke-width="0.9"/>
<line x1="557.47" y1="78.5" x2="557.47" y2="134.0" stroke="#c2c2c2" stroke-width="0.9"/>
<line x1="563.40" y1="78.5" x2="563.40" y2="137.0" stroke="#c2c2c2" stroke-width="0.9"/>
<line x1="569.33" y1="78.5" x2="569.33" y2="138.0" stroke="#c2c2c2" stroke-width="0.9"/>
<line x1="575.26" y1="78.5" x2="575.26" y2="138.0" stroke="#c2c2c2" stroke-width="0.9"/>
<line x1="581.19" y1="78.5" x2="581.19" y2="138.0" stroke="#c2c2c2" stroke-width="0.9"/>
<line x1="587.12" y1="78.5" x2="587.12" y2="137.0" stroke="#c2c2c2" stroke-width="0.9"/>
<line x1="593.05" y1="78.5" x2="593.05" y2="135.0" stroke="#c2c2c2" stroke-width="0.9"/>
<line x1="598.98" y1="78.5" x2="598.98" y2="133.0" stroke="#c2c2c2" stroke-width="0.9"/>
<line x1="604.91" y1="78.5" x2="604.91" y2="134.0" stroke="#c2c2c2" stroke-width="0.9"/>
<line x1="610.84" y1="78.5" x2="610.84" y2="134.0" stroke="#c2c2c2" stroke-width="0.9"/>
<line x1="616.77" y1="78.5" x2="616.77" y2="134.0" stroke="#c2c2c2" stroke-width="0.9"/>
<line x1="622.70" y1="78.5" x2="622.70" y2="134.0" stroke="#c2c2c2" stroke-width="0.9"/>
<line x1="628.63" y1="78.5" x2="628.63" y2="129.0" stroke="#c2c2c2" stroke-width="0.9"/>
<line x1="634.56" y1="78.5" x2="634.56" y2="128.0" stroke="#c2c2c2" stroke-width="0.9"/>
<line x1="640.49" y1="78.5" x2="640.49" y2="126.0" stroke="#c2c2c2" stroke-width="0.9"/>
<line x1="646.42" y1="78.5" x2="646.42" y2="118.0" stroke="#c2c2c2" stroke-width="0.9"/>
<line x1="652.35" y1="78.5" x2="652.35" y2="118.0" stroke="#c2c2c2" stroke-width="0.9"/>
<line x1="658.28" y1="78.5" x2="658.28" y2="112.0" stroke="#c2c2c2" stroke-width="0.9"/>
<line x1="664.21" y1="78.5" x2="664.21" y2="112.0" stroke="#c2c2c2" stroke-width="0.9"/>
<line x1="670.14" y1="78.5" x2="670.14" y2="114.0" stroke="#c2c2c2" stroke-width="0.9"/>
<line x1="676.07" y1="78.5" x2="676.07" y2="117.0" stroke="#c2c2c2" stroke-width="0.9"/>
<line x1="682.00" y1="78.5" x2="682.00" y2="119.0" stroke="#c2c2c2" stroke-width="0.9"/>
<line x1="687.93" y1="78.5" x2="687.93" y2="119.0" stroke="#c2c2c2" stroke-width="0.9"/>
<line x1="693.86" y1="78.5" x2="693.86" y2="115.0" stroke="#c2c2c2" stroke-width="0.9"/>
<line x1="699.79" y1="78.5" x2="699.79" y2="114.0" stroke="#c2c2c2" stroke-width="0.9"/>
<line x1="705.72" y1="78.5" x2="705.72" y2="110.0" stroke="#c2c2c2" stroke-width="0.9"/>
<line x1="711.65" y1="78.5" x2="711.65" y2="108.0" stroke="#c2c2c2" stroke-width="0.9"/>
<line x1="41" y1="78.5" x2="711.5" y2="78.5" stroke="#d4d4d4" stroke-width="0.8"/>
<line x1="40.5" y1="78" x2="40.5" y2="427.5" stroke="#000" stroke-width="1.2"/>
<line x1="36" y1="426.4" x2="736.5" y2="426.4" stroke="#000" stroke-width="1.4"/>
<line x1="36" y1="427.0" x2="40.5" y2="427.0" stroke="#000" stroke-width="1"/>
<text x="31.7" y="430.6" text-anchor="end" font-size="10" fill="#000">0%</text>
<line x1="36" y1="392.1" x2="40.5" y2="392.1" stroke="#000" stroke-width="1"/>
<text x="31.7" y="395.8" text-anchor="end" font-size="10" fill="#000">10%</text>
<line x1="36" y1="357.3" x2="40.5" y2="357.3" stroke="#000" stroke-width="1"/>
<text x="31.7" y="360.9" text-anchor="end" font-size="10" fill="#000">20%</text>
<line x1="36" y1="322.4" x2="40.5" y2="322.4" stroke="#000" stroke-width="1"/>
<text x="31.7" y="326.1" text-anchor="end" font-size="10" fill="#000">30%</text>
<line x1="36" y1="287.6" x2="40.5" y2="287.6" stroke="#000" stroke-width="1"/>
<text x="31.7" y="291.2" text-anchor="end" font-size="10" fill="#000">40%</text>
<line x1="36" y1="252.8" x2="40.5" y2="252.8" stroke="#000" stroke-width="1"/>
<text x="31.7" y="256.4" text-anchor="end" font-size="10" fill="#000">50%</text>
<line x1="36" y1="217.9" x2="40.5" y2="217.9" stroke="#000" stroke-width="1"/>
<text x="31.7" y="221.5" text-anchor="end" font-size="10" fill="#000">60%</text>
<line x1="36" y1="183.0" x2="40.5" y2="183.0" stroke="#000" stroke-width="1"/>
<text x="31.7" y="186.6" text-anchor="end" font-size="10" fill="#000">70%</text>
<line x1="36" y1="148.2" x2="40.5" y2="148.2" stroke="#000" stroke-width="1"/>
<text x="31.7" y="151.8" text-anchor="end" font-size="10" fill="#000">80%</text>
<line x1="36" y1="113.3" x2="40.5" y2="113.3" stroke="#000" stroke-width="1"/>
<text x="31.7" y="116.9" text-anchor="end" font-size="10" fill="#000">90%</text>
<line x1="36" y1="78.5" x2="40.5" y2="78.5" stroke="#000" stroke-width="1"/>
<text x="31.7" y="82.1" text-anchor="end" font-size="10" fill="#000">100%</text>
<line x1="41.1" y1="427" x2="41.1" y2="432" stroke="#000" stroke-width="1"/>
<text transform="translate(48.3,435) rotate(-90)" text-anchor="end" font-size="11" fill="#000">1887-1891</text>
<line x1="64.8" y1="427" x2="64.8" y2="432" stroke="#000" stroke-width="1"/>
<text transform="translate(72.0,435) rotate(-90)" text-anchor="end" font-size="11" fill="#000">1907-1911</text>
<line x1="88.6" y1="427" x2="88.6" y2="432" stroke="#000" stroke-width="1"/>
<text transform="translate(95.8,435) rotate(-90)" text-anchor="end" font-size="11" fill="#000">1916</text>
<line x1="112.3" y1="427" x2="112.3" y2="432" stroke="#000" stroke-width="1"/>
<text transform="translate(119.5,435) rotate(-90)" text-anchor="end" font-size="11" fill="#000">1920</text>
<line x1="136.1" y1="427" x2="136.1" y2="432" stroke="#000" stroke-width="1"/>
<text transform="translate(143.3,435) rotate(-90)" text-anchor="end" font-size="11" fill="#000">1924</text>
<line x1="159.8" y1="427" x2="159.8" y2="432" stroke="#000" stroke-width="1"/>
<text transform="translate(167.0,435) rotate(-90)" text-anchor="end" font-size="11" fill="#000">1928</text>
<line x1="183.6" y1="427" x2="183.6" y2="432" stroke="#000" stroke-width="1"/>
<text transform="translate(190.8,435) rotate(-90)" text-anchor="end" font-size="11" fill="#000">1932</text>
<line x1="207.3" y1="427" x2="207.3" y2="432" stroke="#000" stroke-width="1"/>
<text transform="translate(214.5,435) rotate(-90)" text-anchor="end" font-size="11" fill="#000">1936</text>
<line x1="231.1" y1="427" x2="231.1" y2="432" stroke="#000" stroke-width="1"/>
<text transform="translate(238.3,435) rotate(-90)" text-anchor="end" font-size="11" fill="#000">1940</text>
<line x1="254.8" y1="427" x2="254.8" y2="432" stroke="#000" stroke-width="1"/>
<text transform="translate(262.0,435) rotate(-90)" text-anchor="end" font-size="11" fill="#000">1944</text>
<line x1="278.6" y1="427" x2="278.6" y2="432" stroke="#000" stroke-width="1"/>
<text transform="translate(285.8,435) rotate(-90)" text-anchor="end" font-size="11" fill="#000">1948</text>
<line x1="302.3" y1="427" x2="302.3" y2="432" stroke="#000" stroke-width="1"/>
<text transform="translate(309.5,435) rotate(-90)" text-anchor="end" font-size="11" fill="#000">1952</text>
<line x1="326.0" y1="427" x2="326.0" y2="432" stroke="#000" stroke-width="1"/>
<text transform="translate(333.2,435) rotate(-90)" text-anchor="end" font-size="11" fill="#000">1956</text>
<line x1="349.8" y1="427" x2="349.8" y2="432" stroke="#000" stroke-width="1"/>
<text transform="translate(357.0,435) rotate(-90)" text-anchor="end" font-size="11" fill="#000">1960</text>
<line x1="373.5" y1="427" x2="373.5" y2="432" stroke="#000" stroke-width="1"/>
<text transform="translate(380.7,435) rotate(-90)" text-anchor="end" font-size="11" fill="#000">1964</text>
<line x1="397.3" y1="427" x2="397.3" y2="432" stroke="#000" stroke-width="1"/>
<text transform="translate(404.5,435) rotate(-90)" text-anchor="end" font-size="11" fill="#000">1968</text>
<line x1="421.0" y1="427" x2="421.0" y2="432" stroke="#000" stroke-width="1"/>
<text transform="translate(428.2,435) rotate(-90)" text-anchor="end" font-size="11" fill="#000">1972</text>
<line x1="444.8" y1="427" x2="444.8" y2="432" stroke="#000" stroke-width="1"/>
<text transform="translate(452.0,435) rotate(-90)" text-anchor="end" font-size="11" fill="#000">1976</text>
<line x1="468.5" y1="427" x2="468.5" y2="432" stroke="#000" stroke-width="1"/>
<text transform="translate(475.7,435) rotate(-90)" text-anchor="end" font-size="11" fill="#000">1980</text>
<line x1="492.3" y1="427" x2="492.3" y2="432" stroke="#000" stroke-width="1"/>
<text transform="translate(499.5,435) rotate(-90)" text-anchor="end" font-size="11" fill="#000">1984</text>
<line x1="516.0" y1="427" x2="516.0" y2="432" stroke="#000" stroke-width="1"/>
<text transform="translate(523.2,435) rotate(-90)" text-anchor="end" font-size="11" fill="#000">1988</text>
<line x1="539.7" y1="427" x2="539.7" y2="432" stroke="#000" stroke-width="1"/>
<text transform="translate(546.9,435) rotate(-90)" text-anchor="end" font-size="11" fill="#000">1992</text>
<line x1="563.5" y1="427" x2="563.5" y2="432" stroke="#000" stroke-width="1"/>
<text transform="translate(570.7,435) rotate(-90)" text-anchor="end" font-size="11" fill="#000">1996</text>
<line x1="587.2" y1="427" x2="587.2" y2="432" stroke="#000" stroke-width="1"/>
<text transform="translate(594.4,435) rotate(-90)" text-anchor="end" font-size="11" fill="#000">2000</text>
<line x1="611.0" y1="427" x2="611.0" y2="432" stroke="#000" stroke-width="1"/>
<text transform="translate(618.2,435) rotate(-90)" text-anchor="end" font-size="11" fill="#000">2004</text>
<line x1="634.7" y1="427" x2="634.7" y2="432" stroke="#000" stroke-width="1"/>
<text transform="translate(641.9,435) rotate(-90)" text-anchor="end" font-size="11" fill="#000">2008</text>
<line x1="658.5" y1="427" x2="658.5" y2="432" stroke="#000" stroke-width="1"/>
<text transform="translate(665.7,435) rotate(-90)" text-anchor="end" font-size="11" fill="#000">2012</text>
<line x1="682.2" y1="427" x2="682.2" y2="432" stroke="#000" stroke-width="1"/>
<text transform="translate(689.4,435) rotate(-90)" text-anchor="end" font-size="11" fill="#000">2016</text>
<line x1="706.0" y1="427" x2="706.0" y2="432" stroke="#000" stroke-width="1"/>
<text transform="translate(713.2,435) rotate(-90)" text-anchor="end" font-size="11" fill="#000">2020</text>
<line x1="729.7" y1="427" x2="729.7" y2="432" stroke="#000" stroke-width="1"/>
<text transform="translate(736.9,435) rotate(-90)" text-anchor="end" font-size="11" fill="#000">2024</text>
<rect x="390.5" y="103.0" width="44.0" height="18.0" fill="#ffffff" fill-opacity="1.0"/>
<text x="412.5" y="116.0" text-anchor="middle" font-size="11" font-weight="bold" fill="#111">other</text>
<rect x="126.5" y="234.5" width="43.0" height="15.5" fill="#ffffff" fill-opacity="0.82"/>
<text x="148.0" y="246.2" text-anchor="middle" font-size="11" font-weight="bold" fill="#111">Europe</text>
<rect x="243.7" y="271.5" width="25.3" height="17.0" fill="#ffffff" fill-opacity="0.85"/>
<text x="256.4" y="283.6" text-anchor="middle" font-size="10" font-weight="bold" fill="#111">USA</text>
<rect x="183.5" y="366.0" width="47.5" height="31.5" fill="#ffffff" fill-opacity="0.8"/>
<text x="207.2" y="388.4" text-anchor="middle" font-size="18.5" font-weight="bold" fill="#111">UK</text>
<rect x="586.0" y="142.0" width="19.5" height="13.0" fill="#ffffff" fill-opacity="1.0"/>
<text x="595.8" y="151.6" text-anchor="middle" font-size="8.5" font-weight="bold" fill="#111">NZ</text>
<rect x="477.0" y="176.5" width="42.5" height="9.0" fill="#ffffff" fill-opacity="0.6"/>
<text x="498.2" y="183.5" text-anchor="middle" font-size="6.9" font-weight="bold" fill="#111">Middle East</text>
<rect x="561.0" y="192.5" width="46.0" height="13.0" fill="#ffffff" fill-opacity="0.85"/>
<text x="584.0" y="203.1" text-anchor="middle" font-size="11.3" font-weight="normal" fill="#111">S/E Asia</text>
<rect x="547.5" y="241.0" width="97.0" height="13.5" fill="#ffffff" fill-opacity="0.75"/>
<text x="596.0" y="251.6" text-anchor="middle" font-size="10.7" font-weight="bold" fill="#111">HK, Taiwan, Korea</text>
<rect x="465.0" y="278.5" width="49.5" height="23.5" fill="#ffffff" fill-opacity="0.87"/>
<text x="489.8" y="295.6" text-anchor="middle" font-size="15" font-weight="bold" fill="#111">Japan</text>
<rect x="664.5" y="270.0" width="44.5" height="25.5" fill="#ffffff" fill-opacity="0.85"/>
<text x="686.8" y="287.2" text-anchor="middle" font-size="12.5" font-weight="bold" fill="#111">China</text>
<rect x="473.5" y="356.5" width="36.0" height="16.5" fill="#ffffff" fill-opacity="0.8"/>
<text x="491.5" y="368.5" text-anchor="middle" font-size="10.5" font-weight="bold" fill="#111">USA</text>
<rect x="502.5" y="392.0" width="44.5" height="15.0" fill="#ffffff" fill-opacity="0.85"/>
<text x="524.8" y="403.6" text-anchor="middle" font-size="11.3" font-weight="bold" fill="#111">Europe</text>
<text x="81" y="487" font-size="12.5" font-weight="bold" fill="#e8112d">WW 1</text>
<text x="234" y="486.5" font-size="12.5" font-weight="bold" fill="#e8112d">WW 2</text>
<polygon points="432.2,448.2 439.6,462.8 434.0,458.7 434.0,484.8 430.4,484.8 430.4,458.7 424.8,462.8" fill="#ee1111"/>
<polygon points="597.2,452.0 604.6,466.6 599.0,462.5 599.0,488.6 595.4,488.6 595.4,462.5 589.8,466.6" fill="#ee1111"/>
<text x="427.8" y="498.3" text-anchor="middle" font-size="10.3" font-weight="bold" fill="#e8112d">Britain joins EEC</text>
<text x="600.3" y="501.5" text-anchor="middle" font-size="10.3" font-weight="bold" fill="#e8112d">China joins WTO</text>
<text x="783" y="500" font-size="5.6" fill="#222" textLength="85" lengthAdjust="spacing" xml:space="preserve">ABS \ 5368  - 14a   \yr   BH245</text>
<text x="899" y="496" font-size="9" fill="#111">OWEN</text>
<rect x="784.8" y="86.4" width="6.6" height="6.6" fill="#fff" stroke="#b0b0b0" stroke-width="0.8"/>
<text x="794.5" y="93.9" font-size="12.6" fill="#000">Other 9%</text>
<rect x="785" y="119.3" width="6.2" height="6.2" fill="#333333"/>
<text x="794.5" y="126.6" font-size="12.6" fill="#000">NZ 3%</text>
<rect x="785" y="153.5" width="6.2" height="6.2" fill="#99cc00"/>
<text x="794.5" y="160.8" font-size="12.6" fill="#000">Middle East 2%</text>
<rect x="785" y="186.6" width="6.2" height="6.2" fill="#ff9900"/>
<text x="794.5" y="193.9" font-size="12.6" fill="#000">India 3%</text>
<rect x="785" y="219.6" width="6.2" height="6.2" fill="#0a66cc"/>
<text x="794.5" y="226.9" font-size="12.6" fill="#000">SE Asia 10%</text>
<rect x="785" y="253.2" width="6.2" height="6.2" fill="#99ccff"/>
<text x="794.5" y="260.5" font-size="12.6" fill="#000">HK, Taiwan, Korea 11%</text>
<rect x="785" y="286.6" width="6.2" height="6.2" fill="#ff99cc"/>
<text x="794.5" y="293.9" font-size="12.6" fill="#000">China 40%</text>
<rect x="785" y="320.1" width="6.2" height="6.2" fill="#f00000"/>
<text x="794.5" y="327.4" font-size="12.6" fill="#000">Japan 14%</text>
<rect x="785" y="353.2" width="6.2" height="6.2" fill="#2cc6f6"/>
<text x="794.5" y="360.5" font-size="12.6" fill="#000">USA 5%</text>
<rect x="785" y="386.6" width="6.2" height="6.2" fill="#ff9900"/>
<text x="794.5" y="393.9" font-size="12.6" fill="#000">Europe 3%</text>
<rect x="785" y="420.3" width="6.2" height="6.2" fill="#c0c0c0"/>
<text x="794.5" y="427.6" font-size="12.6" fill="#000">UK 4%</text>
<defs><marker id="ah" markerWidth="8" markerHeight="6" refX="6.8" refY="3" orient="auto" markerUnits="userSpaceOnUse"><path d="M0,0.3 L7,3 L0,5.7 z" fill="#000"/></marker></defs>
<line x1="779.0" y1="89.0" x2="732.6" y2="92.0" stroke="#000" stroke-width="1" marker-end="url(#ah)"/>
<line x1="774.3" y1="119.5" x2="727.9" y2="111.7" stroke="#000" stroke-width="1" marker-end="url(#ah)"/>
<line x1="783.8" y1="155.7" x2="729.0" y2="126.0" stroke="#000" stroke-width="1" marker-end="url(#ah)"/>
<line x1="781.0" y1="186.7" x2="720.7" y2="140.0" stroke="#000" stroke-width="1" marker-end="url(#ah)"/>
<line x1="777.0" y1="218.8" x2="722.4" y2="165.0" stroke="#000" stroke-width="1" marker-end="url(#ah)"/>
<line x1="777.9" y1="249.8" x2="730.2" y2="215.2" stroke="#000" stroke-width="1" marker-end="url(#ah)"/>
<line x1="784.3" y1="290.2" x2="729.0" y2="289.0" stroke="#000" stroke-width="1" marker-end="url(#ah)"/>
<line x1="782.6" y1="327.0" x2="728.6" y2="363.3" stroke="#000" stroke-width="1" marker-end="url(#ah)"/>
<line x1="782.6" y1="360.5" x2="732.6" y2="393.6" stroke="#000" stroke-width="1" marker-end="url(#ah)"/>
<line x1="779.0" y1="395.2" x2="733.3" y2="410.2" stroke="#000" stroke-width="1" marker-end="url(#ah)"/>
<line x1="775.5" y1="424.0" x2="734.5" y2="423.3" stroke="#000" stroke-width="1" marker-end="url(#ah)"/>
<defs><radialGradient id="lg" cx="0.45" cy="0.45" r="0.6"><stop offset="0" stop-color="#c9dbe3"/><stop offset="0.7" stop-color="#a9bec9"/><stop offset="1" stop-color="#7d8f9a"/></radialGradient></defs>
<g transform="translate(918.3,8.6)"><path d="M-8.2,0 L0,-8.6 L8.4,0 L0,8.8 z" fill="#eef3f5" stroke="#b9c4ca" stroke-width="0.6"/><circle r="6.3" fill="url(#lg)"/><path d="M-6.2,-1 A6.3,6.3 0 0 0 -4,4.8" fill="none" stroke="#5f6e78" stroke-width="1.2"/><path d="M-3.5,-2.5 L-1.5,-2.2 M-1,-0.3 L1.5,-0.6 M-3,3.2 L-0.8,3.8 M2.5,2.8 L4,2" stroke="#6f828d" stroke-width="0.9" fill="none"/><circle cx="6.5" cy="0" r="1.6" fill="#e4edf1"/></g>
</svg></body></html>
